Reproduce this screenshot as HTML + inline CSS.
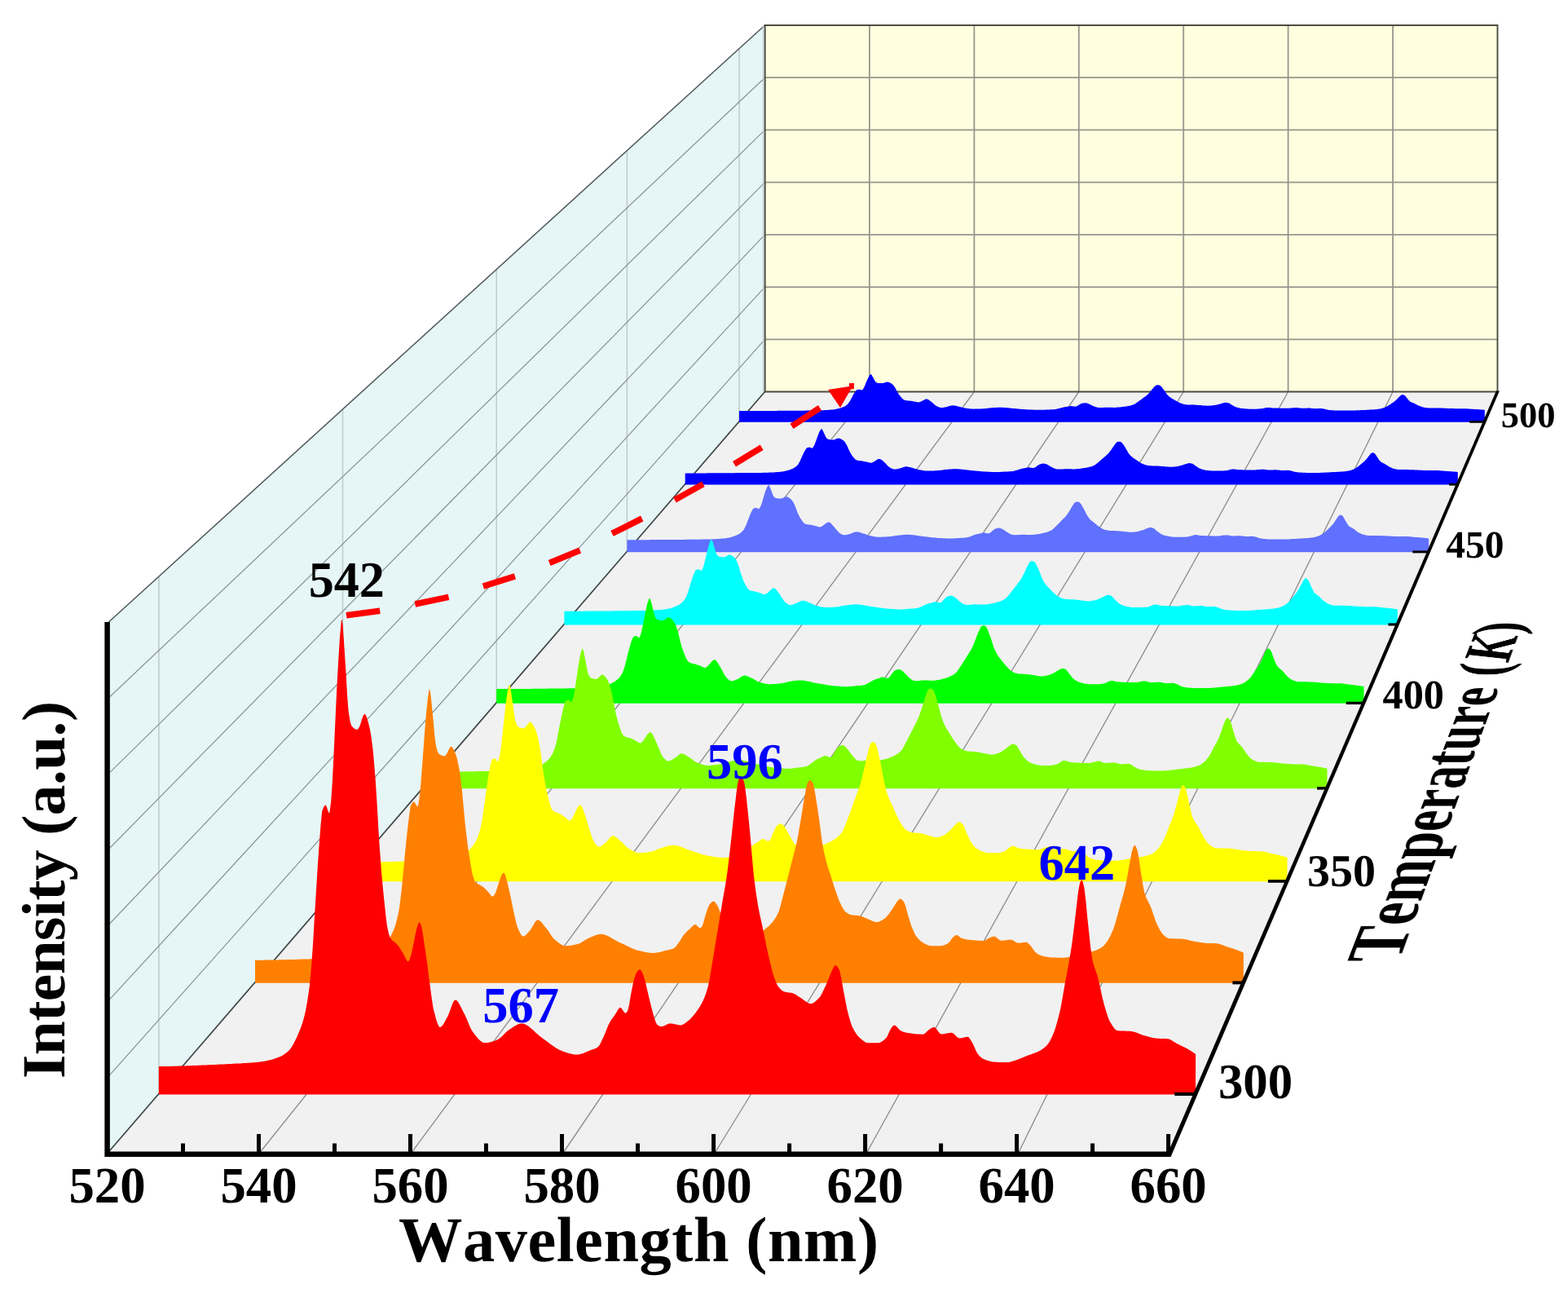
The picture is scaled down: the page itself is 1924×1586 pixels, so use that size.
<!DOCTYPE html>
<html lang="en">
<head>
<meta charset="utf-8">
<title>Temperature-dependent emission spectra</title>
<style>
html,body{margin:0;padding:0;background:#ffffff;}
body{width:1924px;height:1586px;position:relative;overflow:hidden;}
svg{display:block;position:absolute;left:0;top:0;filter:blur(0.5px);}
</style>
</head>
<body>
<svg id="chart" width="1924" height="1586" viewBox="0 0 1924 1586">
<rect width="1924" height="1586" fill="#ffffff"/>
<polygon points="938.5,31.0 1837.5,31.0 1837.5,480.5 938.5,480.5" fill="#ffffdf"/>
<polygon points="131.5,1415.0 131.5,764.8 938.5,31.0 938.5,480.5" fill="#e6f6f6"/>
<polygon points="131.5,1415.0 1435.5,1415.0 1837.5,480.5 938.5,480.5" fill="#f1f1f1"/>
<path d="M1066.9 31.0V480.5M938.5 95.2H1837.5M1195.4 31.0V480.5M938.5 159.4H1837.5M1323.8 31.0V480.5M938.5 223.6H1837.5M1452.2 31.0V480.5M938.5 287.9H1837.5M1580.6 31.0V480.5M938.5 352.1H1837.5M1709.1 31.0V480.5M938.5 416.3H1837.5" stroke="#96968e" stroke-width="1.8" fill="none"/>
<path d="M194.9 1341.5V707.1M420.5 1080.4V502.0M609.2 861.9V330.4M769.4 676.4V184.8M907.0 516.9V59.6" stroke="#c0caca" stroke-width="1.5" fill="none"/>
<path d="M131.5 1322.1L938.5 416.3M131.5 1229.2L938.5 352.1M131.5 1136.3L938.5 287.9M131.5 1043.5L938.5 223.6M131.5 950.6L938.5 159.4M131.5 857.7L938.5 95.2" stroke="#8a9494" stroke-width="1.25" fill="none"/>
<path d="M317.8 1415.0L1066.9 480.5M504.1 1415.0L1195.4 480.5M690.4 1415.0L1323.8 480.5M876.6 1415.0L1452.2 480.5M1062.9 1415.0L1580.6 480.5M1249.2 1415.0L1709.1 480.5" stroke="#8e8e8e" stroke-width="1.35" fill="none"/>
<path d="M131.5 764.8L938.5 31.0" stroke="#4e5658" stroke-width="1.5" fill="none"/>
<path d="M936.7 32.0V480.5" stroke="#c3d0d6" stroke-width="1.6" fill="none"/>
<path d="M938.7 31.0H1837.5V480.5H938.7Z" stroke="#4c4c40" stroke-width="1.9" fill="none"/>
<path d="M131.5 1415.0L938.5 480.5" stroke="#404545" stroke-width="1.7" fill="none"/>
<path d="M907.0 517.8L907.0 504.0L908.4 504.0L909.7 504.0L911.0 504.0L912.3 504.0L913.6 504.0L914.9 504.0L916.2 504.0L917.5 504.0L918.8 504.0L920.1 504.0L921.4 504.0L922.8 504.0L924.1 504.0L925.4 504.0L926.7 504.0L928.0 504.0L929.3 504.0L930.6 504.0L931.9 504.0L933.2 503.9L934.5 503.9L935.8 503.9L937.1 503.9L938.5 503.9L939.8 503.9L941.1 503.9L942.4 503.9L943.7 503.9L945.0 503.9L946.3 503.9L947.6 503.9L948.9 503.9L950.2 503.9L951.5 503.9L952.9 503.9L954.2 503.8L955.5 503.8L956.8 503.8L958.1 503.8L959.4 503.8L960.7 503.8L962.0 503.8L963.3 503.8L964.6 503.8L965.9 503.8L967.2 503.8L968.2 503.8L968.6 503.8L969.9 503.8L971.2 503.8L972.5 503.7L973.8 503.7L975.1 503.7L976.4 503.7L977.7 503.7L979.0 503.7L980.3 503.7L981.6 503.7L983.0 503.7L984.3 503.7L985.6 503.7L986.9 503.7L988.2 503.6L989.5 503.6L990.8 503.6L992.1 503.6L993.4 503.6L994.7 503.6L996.0 503.6L997.0 503.5L997.3 503.5L998.7 503.5L1000.0 503.5L1001.3 503.5L1002.6 503.4L1003.9 503.4L1005.2 503.4L1006.5 503.3L1007.8 503.3L1009.1 503.2L1010.4 503.2L1011.7 503.1L1013.1 503.1L1013.1 503.1L1014.4 503.0L1015.7 502.9L1017.0 502.8L1018.3 502.7L1019.6 502.6L1020.9 502.5L1022.1 502.4L1022.2 502.4L1023.5 502.2L1024.8 502.0L1026.1 501.7L1027.4 501.4L1028.8 501.1L1029.3 500.9L1030.1 500.7L1031.4 500.4L1032.7 500.0L1034.0 499.5L1035.3 499.0L1035.6 498.9L1036.6 498.4L1037.9 497.6L1039.2 496.6L1040.1 495.8L1040.5 495.3L1041.8 493.6L1042.8 492.1L1043.2 491.5L1044.5 488.9L1045.5 486.9L1045.8 486.4L1047.1 484.1L1048.4 481.9L1049.1 480.8L1049.7 479.9L1051.0 478.4L1051.2 478.3L1052.3 478.0L1053.6 477.7L1054.1 477.7L1054.9 477.8L1056.2 478.3L1057.5 478.6L1057.5 478.6L1058.9 477.4L1059.9 475.8L1060.2 475.3L1061.5 472.3L1062.6 469.6L1062.8 469.1L1064.1 465.9L1065.3 463.4L1065.4 463.2L1066.7 460.8L1068.0 459.2L1068.5 459.0L1069.3 459.6L1070.6 461.8L1071.6 463.4L1071.9 464.1L1073.3 466.7L1074.3 468.2L1074.6 468.4L1075.9 469.4L1077.0 469.7L1077.2 469.8L1078.5 469.9L1079.8 470.0L1081.1 470.1L1082.3 470.1L1082.4 470.1L1083.7 469.9L1085.0 469.5L1086.3 469.0L1087.6 468.7L1088.6 468.6L1089.0 468.6L1090.3 468.8L1091.6 469.3L1092.9 469.9L1093.1 470.0L1094.2 470.7L1095.5 471.8L1095.8 472.1L1096.8 473.2L1098.1 475.2L1098.5 475.8L1099.4 477.4L1100.7 480.1L1101.2 481.0L1102.0 482.3L1103.4 484.3L1103.9 485.1L1104.7 486.0L1106.0 487.5L1106.6 488.2L1107.3 488.9L1108.4 489.9L1108.6 490.0L1109.9 490.7L1111.1 491.0L1111.2 491.1L1112.5 491.3L1113.8 491.4L1115.1 491.5L1116.4 491.7L1117.4 491.8L1117.7 491.8L1119.1 492.0L1120.4 492.2L1121.7 492.5L1122.8 492.7L1123.0 492.7L1124.3 493.0L1125.6 493.3L1126.9 493.5L1126.9 493.5L1128.2 493.3L1129.5 492.8L1130.8 492.2L1132.1 491.4L1133.5 490.7L1134.8 490.1L1136.1 489.6L1137.2 489.5L1137.4 489.5L1138.7 489.9L1140.0 490.7L1141.3 491.7L1142.6 492.7L1142.6 492.7L1143.9 493.8L1145.2 495.0L1146.2 495.8L1146.5 496.1L1147.9 497.2L1149.2 498.1L1149.8 498.5L1150.5 498.8L1151.8 499.3L1153.1 499.8L1154.4 500.0L1155.2 500.1L1155.7 500.1L1157.0 499.9L1158.3 499.7L1159.6 499.5L1160.9 499.2L1161.4 499.1L1162.2 498.9L1163.6 498.5L1164.9 498.1L1166.2 497.7L1167.5 497.4L1168.6 497.3L1168.8 497.3L1170.1 497.4L1171.4 497.6L1172.7 497.8L1174.0 498.1L1175.3 498.5L1176.6 498.8L1176.7 498.8L1178.0 499.1L1179.3 499.4L1180.6 499.8L1181.9 500.1L1183.2 500.4L1183.9 500.5L1184.5 500.6L1185.8 500.8L1187.1 501.0L1188.4 501.2L1189.7 501.3L1191.0 501.5L1192.3 501.6L1193.7 501.6L1194.7 501.7L1195.0 501.7L1196.3 501.6L1197.6 501.6L1198.9 501.6L1200.2 501.6L1201.5 501.5L1202.8 501.5L1204.1 501.4L1205.4 501.3L1205.5 501.3L1206.7 501.3L1208.1 501.2L1209.4 501.0L1210.7 500.9L1212.0 500.7L1213.3 500.6L1214.6 500.5L1215.9 500.3L1216.3 500.3L1217.2 500.2L1218.5 500.1L1219.8 500.0L1221.1 499.9L1222.4 499.9L1223.8 499.8L1225.1 499.7L1226.4 499.7L1227.1 499.7L1227.7 499.7L1229.0 499.7L1230.3 499.8L1231.6 499.9L1232.9 500.0L1234.2 500.1L1235.5 500.2L1236.8 500.3L1238.2 500.5L1239.5 500.6L1240.8 500.7L1242.1 500.9L1243.4 501.0L1244.7 501.1L1245.0 501.1L1246.0 501.2L1247.3 501.3L1248.6 501.4L1249.9 501.5L1251.2 501.7L1252.5 501.8L1253.9 501.9L1255.2 502.0L1256.5 502.1L1257.8 502.2L1259.1 502.3L1260.4 502.3L1261.7 502.4L1263.0 502.5L1263.0 502.5L1264.3 502.5L1265.6 502.6L1266.9 502.6L1268.3 502.7L1269.6 502.7L1270.9 502.8L1272.2 502.8L1273.5 502.8L1274.8 502.8L1275.6 502.8L1276.1 502.8L1277.4 502.8L1278.7 502.8L1280.0 502.7L1281.3 502.7L1282.6 502.6L1284.0 502.6L1285.3 502.5L1286.6 502.4L1287.9 502.4L1288.2 502.4L1289.2 502.3L1290.5 502.3L1291.8 502.2L1293.1 502.2L1294.4 502.1L1294.5 502.1L1295.7 501.9L1297.0 501.6L1298.4 501.3L1299.0 501.1L1299.7 501.0L1301.0 500.6L1302.3 500.2L1303.6 499.9L1304.4 499.7L1304.9 499.6L1306.2 499.3L1307.5 499.1L1308.8 498.9L1309.8 498.8L1310.1 498.7L1311.4 498.4L1312.7 498.2L1314.1 498.1L1314.3 498.1L1315.4 498.2L1316.7 498.4L1318.0 498.6L1318.7 498.7L1319.3 498.6L1320.5 498.5L1320.6 498.4L1321.9 497.9L1323.2 497.0L1324.1 496.4L1324.5 496.2L1325.8 495.5L1327.1 494.9L1327.7 494.8L1328.5 494.6L1329.8 494.4L1331.1 494.2L1331.3 494.2L1332.4 494.3L1333.7 494.6L1334.9 495.0L1335.0 495.0L1336.3 495.5L1337.6 496.2L1338.5 496.6L1338.9 496.8L1340.2 497.4L1341.5 498.0L1342.8 498.6L1343.0 498.7L1344.2 499.1L1345.5 499.6L1346.6 499.8L1346.8 499.8L1348.1 499.9L1349.4 500.0L1350.2 500.0L1350.7 500.0L1352.0 500.0L1353.3 499.9L1354.6 499.8L1355.9 499.8L1357.2 499.7L1358.3 499.7L1358.6 499.7L1359.9 499.7L1361.2 499.7L1362.5 499.8L1363.8 499.8L1365.1 499.8L1366.4 499.9L1367.3 499.9L1367.7 499.9L1369.0 499.8L1370.3 499.7L1371.6 499.6L1372.9 499.5L1374.3 499.4L1374.5 499.4L1375.6 499.3L1376.9 499.1L1378.2 499.0L1379.5 498.8L1380.8 498.6L1381.7 498.5L1382.1 498.4L1383.4 498.2L1384.7 497.9L1386.0 497.7L1387.1 497.4L1387.3 497.4L1388.7 497.0L1390.0 496.6L1391.3 496.1L1391.6 496.0L1392.6 495.4L1393.9 494.5L1395.1 493.7L1395.2 493.6L1396.5 492.7L1397.8 491.8L1399.1 490.8L1399.6 490.4L1400.4 489.9L1401.7 488.9L1403.0 487.9L1404.1 487.1L1404.4 486.9L1405.7 485.9L1407.0 484.9L1408.3 483.8L1408.6 483.5L1409.6 482.5L1410.9 481.0L1412.2 479.5L1412.2 479.4L1413.5 477.8L1414.8 476.2L1415.8 475.1L1416.1 474.7L1417.4 473.4L1418.5 472.7L1418.8 472.6L1420.1 472.3L1420.9 472.3L1421.4 472.3L1422.7 472.6L1423.4 472.9L1424.0 473.3L1425.3 474.6L1426.6 476.2L1426.6 476.3L1427.9 477.9L1429.2 479.7L1429.3 479.8L1430.5 481.7L1431.8 483.6L1432.0 483.8L1433.1 485.1L1434.5 486.2L1435.6 487.2L1435.8 487.3L1437.1 488.2L1438.4 489.0L1439.7 489.7L1440.1 490.0L1441.0 490.5L1442.3 491.3L1443.6 492.1L1444.6 492.6L1444.9 492.8L1446.2 493.5L1447.5 494.1L1448.9 494.6L1449.1 494.7L1450.2 495.1L1451.5 495.5L1452.8 495.8L1453.6 496.0L1454.1 496.1L1455.4 496.2L1456.7 496.4L1458.0 496.5L1459.0 496.5L1459.3 496.5L1460.6 496.5L1461.9 496.6L1463.2 496.6L1464.6 496.6L1465.9 496.6L1466.2 496.6L1467.2 496.7L1468.5 496.8L1469.8 496.9L1471.1 497.0L1472.4 497.1L1473.3 497.1L1473.7 497.1L1475.0 497.2L1476.3 497.4L1477.6 497.5L1479.0 497.6L1480.3 497.6L1481.6 497.7L1482.3 497.7L1482.9 497.7L1484.2 497.6L1485.5 497.6L1486.8 497.4L1488.1 497.3L1489.4 497.1L1489.5 497.1L1490.7 496.9L1492.0 496.7L1493.3 496.4L1494.7 496.1L1495.8 495.8L1496.0 495.7L1497.3 495.4L1498.6 495.0L1499.9 494.6L1500.3 494.5L1501.2 494.3L1502.5 494.0L1503.8 493.8L1503.9 493.8L1505.1 493.9L1506.4 494.1L1507.5 494.3L1507.7 494.4L1509.1 495.1L1510.4 495.9L1511.1 496.4L1511.7 496.7L1513.0 497.5L1514.3 498.3L1514.7 498.5L1515.6 498.9L1516.9 499.4L1518.2 499.8L1519.2 500.1L1519.5 500.2L1520.8 500.5L1522.1 500.7L1523.4 500.9L1524.8 501.1L1525.5 501.1L1526.1 501.2L1527.4 501.3L1528.7 501.5L1530.0 501.6L1531.3 501.6L1532.6 501.7L1532.7 501.7L1533.9 501.7L1535.2 501.7L1536.5 501.7L1537.8 501.7L1539.2 501.7L1540.5 501.7L1541.7 501.7L1541.8 501.7L1543.1 501.6L1544.4 501.6L1545.7 501.5L1547.0 501.3L1548.3 501.2L1548.9 501.1L1549.6 501.0L1550.9 500.7L1552.2 500.4L1552.4 500.3L1553.5 500.1L1554.9 499.9L1556.0 499.9L1556.2 499.9L1557.5 499.9L1558.8 500.1L1560.1 500.3L1561.4 500.4L1561.4 500.4L1562.7 500.5L1564.0 500.5L1565.3 500.6L1566.6 500.6L1566.8 500.6L1567.9 500.6L1569.3 500.7L1570.6 500.7L1571.9 500.7L1573.2 500.7L1574.5 500.7L1575.8 500.8L1577.1 500.8L1578.4 500.8L1579.7 500.8L1581.0 500.8L1581.2 500.8L1582.3 500.7L1583.6 500.6L1585.0 500.5L1586.3 500.3L1586.6 500.3L1587.6 500.2L1588.9 500.2L1590.2 500.1L1591.1 500.1L1591.5 500.1L1592.8 500.2L1594.1 500.4L1595.4 500.6L1596.7 500.7L1597.4 500.8L1598.0 500.8L1599.4 500.7L1600.7 500.7L1602.0 500.7L1603.3 500.7L1604.6 500.6L1605.9 500.6L1606.4 500.6L1607.2 500.6L1608.5 500.7L1609.8 500.9L1611.1 501.0L1612.4 501.1L1613.6 501.2L1613.7 501.2L1615.1 501.2L1616.4 501.1L1617.7 501.1L1619.0 501.1L1620.3 501.0L1620.8 501.0L1621.6 501.1L1622.9 501.3L1624.2 501.5L1624.4 501.5L1625.5 501.8L1626.8 502.1L1628.1 502.5L1629.5 502.7L1629.8 502.8L1630.8 502.9L1632.1 503.1L1633.4 503.2L1634.7 503.3L1635.1 503.3L1636.0 503.3L1637.3 503.4L1638.6 503.4L1639.9 503.5L1641.2 503.5L1642.5 503.5L1643.8 503.6L1644.1 503.6L1645.2 503.6L1646.5 503.6L1647.8 503.6L1649.1 503.6L1650.4 503.6L1651.7 503.6L1653.0 503.6L1654.3 503.6L1654.9 503.6L1655.6 503.6L1656.9 503.6L1658.2 503.6L1659.6 503.5L1660.9 503.5L1662.2 503.4L1663.5 503.4L1663.9 503.4L1664.8 503.3L1666.1 503.3L1667.4 503.2L1668.7 503.2L1670.0 503.1L1671.3 503.0L1672.6 503.0L1672.9 502.9L1673.9 502.9L1675.3 502.9L1676.6 502.8L1677.9 502.7L1679.2 502.7L1680.5 502.6L1681.8 502.6L1683.1 502.5L1683.7 502.5L1684.4 502.4L1685.7 502.3L1687.0 502.2L1688.3 502.1L1689.7 502.0L1690.9 501.9L1691.0 501.8L1692.3 501.6L1693.6 501.4L1694.9 501.1L1696.2 500.7L1696.3 500.7L1697.5 500.3L1698.8 499.9L1700.1 499.3L1701.4 498.7L1701.7 498.6L1702.7 498.0L1704.0 497.2L1705.4 496.3L1706.7 495.4L1707.1 495.1L1708.0 494.5L1709.3 493.7L1710.6 492.8L1711.9 491.8L1712.4 491.3L1713.2 490.6L1714.5 489.3L1715.8 488.0L1716.0 487.7L1717.1 486.5L1718.4 485.3L1718.7 485.1L1719.8 484.5L1721.1 484.0L1721.1 484.0L1722.4 484.4L1723.6 485.1L1723.7 485.1L1725.0 486.4L1726.3 488.2L1726.8 488.8L1727.6 489.8L1728.9 491.3L1730.2 492.5L1730.4 492.6L1731.5 493.3L1732.8 493.8L1734.1 494.3L1735.5 494.8L1735.8 494.9L1736.8 495.4L1738.1 496.2L1739.4 496.9L1740.7 497.5L1741.2 497.8L1742.0 498.1L1743.3 498.6L1744.6 499.1L1745.9 499.4L1746.6 499.6L1747.2 499.7L1748.5 499.9L1749.9 500.2L1751.2 500.3L1752.5 500.4L1752.9 500.4L1753.8 500.4L1755.1 500.4L1756.4 500.4L1757.7 500.4L1759.0 500.5L1760.3 500.5L1761.6 500.5L1762.9 500.5L1764.2 500.5L1764.6 500.5L1765.6 500.5L1766.9 500.5L1768.2 500.6L1769.5 500.6L1770.8 500.7L1772.1 500.7L1773.4 500.8L1774.7 500.8L1776.0 500.9L1777.2 500.9L1777.3 500.9L1778.6 501.0L1780.0 501.0L1781.3 501.1L1782.6 501.1L1783.9 501.1L1785.2 501.2L1786.5 501.2L1787.8 501.2L1788.0 501.2L1789.1 501.2L1790.4 501.2L1791.7 501.2L1793.0 501.2L1794.3 501.2L1795.7 501.2L1796.9 501.2L1797.0 501.2L1798.3 501.3L1799.6 501.3L1800.9 501.4L1802.2 501.5L1803.5 501.6L1804.8 501.7L1805.9 501.8L1806.1 501.8L1807.4 501.8L1808.7 501.9L1810.1 502.0L1811.4 502.1L1812.7 502.1L1814.0 502.2L1814.9 502.3L1815.3 502.3L1816.6 502.4L1817.9 502.5L1819.2 502.6L1820.5 502.7L1821.8 502.8L1821.8 517.8Z" fill="#0000ff"/>
<path d="M840.7 594.6L840.7 580.4L842.1 580.4L843.4 580.4L844.8 580.4L846.1 580.4L847.5 580.4L848.8 580.4L850.2 580.4L851.6 580.4L852.9 580.4L854.3 580.4L855.6 580.4L857.0 580.4L858.3 580.4L859.7 580.4L861.1 580.4L862.4 580.4L863.8 580.4L865.1 580.4L866.5 580.4L867.8 580.3L869.2 580.3L870.6 580.3L871.9 580.3L873.3 580.3L874.6 580.3L876.0 580.3L877.3 580.3L878.7 580.3L880.0 580.3L881.4 580.3L882.8 580.3L884.1 580.3L885.5 580.3L886.8 580.2L888.2 580.2L889.5 580.2L890.9 580.2L892.3 580.2L893.6 580.2L895.0 580.2L896.3 580.2L897.7 580.2L899.0 580.2L900.4 580.2L901.7 580.2L903.1 580.1L904.1 580.1L904.5 580.1L905.8 580.1L907.2 580.1L908.5 580.1L909.9 580.1L911.2 580.1L912.6 580.1L914.0 580.1L915.3 580.1L916.7 580.1L918.0 580.0L919.4 580.0L920.7 580.0L922.1 580.0L923.4 580.0L924.8 580.0L926.2 580.0L927.5 580.0L928.9 579.9L930.2 579.9L931.6 579.9L932.9 579.9L933.9 579.9L934.3 579.9L935.7 579.8L937.0 579.8L938.4 579.8L939.7 579.7L941.1 579.7L942.4 579.7L943.8 579.6L945.1 579.5L946.5 579.5L947.9 579.4L949.2 579.4L950.6 579.3L950.7 579.3L951.9 579.2L953.3 579.1L954.6 579.0L956.0 578.9L957.4 578.8L958.7 578.6L960.0 578.4L960.1 578.4L961.4 578.2L962.8 577.9L964.1 577.6L965.5 577.3L966.9 576.9L967.4 576.7L968.2 576.5L969.6 576.0L970.9 575.6L972.3 575.0L973.6 574.4L973.9 574.2L975.0 573.6L976.3 572.6L977.7 571.4L978.6 570.5L979.1 569.9L980.4 567.8L981.4 566.0L981.8 565.3L983.1 562.2L984.2 559.8L984.5 559.2L985.8 556.3L987.2 553.6L987.9 552.4L988.6 551.3L989.9 549.5L990.2 549.3L991.3 548.9L992.6 548.7L993.1 548.6L994.0 548.8L995.3 549.4L996.7 549.7L996.7 549.7L998.0 548.3L999.1 546.3L999.4 545.7L1000.8 542.1L1001.9 538.9L1002.1 538.3L1003.5 534.4L1004.7 531.4L1004.8 531.1L1006.2 528.2L1007.5 526.2L1008.0 526.0L1008.9 526.7L1010.3 529.4L1011.2 531.4L1011.6 532.2L1013.0 535.4L1014.0 537.1L1014.3 537.4L1015.7 538.5L1016.8 539.0L1017.0 539.0L1018.4 539.2L1019.7 539.4L1021.1 539.5L1022.4 539.5L1022.5 539.5L1023.8 539.2L1025.2 538.7L1026.5 538.1L1027.9 537.7L1028.9 537.6L1029.2 537.6L1030.6 537.9L1032.0 538.5L1033.3 539.2L1033.6 539.4L1034.7 540.1L1036.0 541.5L1036.4 541.8L1037.4 543.2L1038.7 545.6L1039.2 546.3L1040.1 548.3L1041.4 551.5L1042.0 552.6L1042.8 554.2L1044.2 556.6L1044.7 557.5L1045.5 558.7L1046.9 560.4L1047.5 561.3L1048.2 562.1L1049.4 563.4L1049.6 563.5L1050.9 564.3L1052.2 564.8L1052.3 564.8L1053.7 565.0L1055.0 565.2L1056.4 565.3L1057.7 565.5L1058.7 565.6L1059.1 565.7L1060.4 565.9L1061.8 566.2L1063.1 566.5L1064.3 566.7L1064.5 566.8L1065.9 567.2L1067.2 567.5L1068.6 567.7L1068.6 567.7L1069.9 567.5L1071.3 566.9L1072.6 566.1L1074.0 565.2L1075.4 564.3L1076.7 563.6L1078.1 563.0L1079.2 562.9L1079.4 562.9L1080.8 563.4L1082.1 564.3L1083.5 565.6L1084.8 566.7L1084.9 566.8L1086.2 568.1L1087.6 569.5L1088.5 570.5L1088.9 570.9L1090.3 572.2L1091.6 573.3L1092.3 573.7L1093.0 574.1L1094.3 574.7L1095.7 575.3L1097.1 575.6L1097.8 575.7L1098.4 575.6L1099.8 575.5L1101.1 575.2L1102.5 574.9L1103.8 574.6L1104.4 574.5L1105.2 574.2L1106.6 573.8L1107.9 573.3L1109.3 572.8L1110.6 572.5L1111.8 572.3L1112.0 572.3L1113.3 572.4L1114.7 572.7L1116.0 573.0L1117.4 573.3L1118.8 573.7L1120.1 574.1L1120.2 574.1L1121.5 574.4L1122.8 574.9L1124.2 575.3L1125.5 575.7L1126.9 576.1L1127.7 576.2L1128.3 576.3L1129.6 576.6L1131.0 576.8L1132.3 577.0L1133.7 577.2L1135.0 577.4L1136.4 577.5L1137.7 577.6L1138.8 577.6L1139.1 577.6L1140.5 577.6L1141.8 577.5L1143.2 577.5L1144.5 577.5L1145.9 577.4L1147.2 577.3L1148.6 577.3L1150.0 577.2L1150.0 577.2L1151.3 577.1L1152.7 577.0L1154.0 576.8L1155.4 576.7L1156.7 576.5L1158.1 576.3L1159.4 576.1L1160.8 576.0L1161.2 576.0L1162.2 575.9L1163.5 575.8L1164.9 575.6L1166.2 575.5L1167.6 575.4L1168.9 575.3L1170.3 575.3L1171.7 575.2L1172.4 575.2L1173.0 575.2L1174.4 575.2L1175.7 575.3L1177.1 575.4L1178.4 575.5L1179.8 575.7L1181.2 575.8L1182.5 576.0L1183.9 576.1L1185.2 576.3L1186.6 576.5L1187.9 576.6L1189.3 576.8L1190.6 576.9L1191.0 577.0L1192.0 577.0L1193.4 577.2L1194.7 577.3L1196.1 577.4L1197.4 577.6L1198.8 577.7L1200.1 577.8L1201.5 578.0L1202.9 578.1L1204.2 578.2L1205.6 578.3L1206.9 578.4L1208.3 578.5L1209.6 578.6L1209.6 578.6L1211.0 578.6L1212.3 578.7L1213.7 578.8L1215.1 578.8L1216.4 578.9L1217.8 578.9L1219.1 578.9L1220.5 579.0L1221.8 579.0L1222.7 579.0L1223.2 579.0L1224.6 579.0L1225.9 578.9L1227.3 578.9L1228.6 578.8L1230.0 578.8L1231.3 578.7L1232.7 578.6L1234.0 578.5L1235.4 578.5L1235.7 578.4L1236.8 578.4L1238.1 578.3L1239.5 578.3L1240.8 578.2L1242.2 578.1L1242.2 578.1L1243.5 577.9L1244.9 577.5L1246.3 577.1L1246.9 577.0L1247.6 576.7L1249.0 576.3L1250.3 575.9L1251.7 575.4L1252.5 575.2L1253.0 575.1L1254.4 574.8L1255.7 574.5L1257.1 574.3L1258.1 574.1L1258.5 574.0L1259.8 573.7L1261.2 573.4L1262.5 573.3L1262.7 573.3L1263.9 573.4L1265.2 573.7L1266.6 573.9L1267.4 574.0L1268.0 573.9L1269.3 573.7L1269.3 573.7L1270.7 573.0L1272.0 571.9L1273.0 571.2L1273.4 571.0L1274.7 570.1L1276.1 569.4L1276.7 569.2L1277.5 569.0L1278.8 568.8L1280.2 568.6L1280.4 568.6L1281.5 568.7L1282.9 569.1L1284.2 569.5L1284.2 569.5L1285.6 570.1L1286.9 570.9L1287.9 571.5L1288.3 571.7L1289.7 572.5L1291.0 573.2L1292.4 573.9L1292.5 574.0L1293.7 574.5L1295.1 575.1L1296.3 575.3L1296.4 575.4L1297.8 575.5L1299.2 575.6L1300.0 575.6L1300.5 575.6L1301.9 575.5L1303.2 575.5L1304.6 575.4L1305.9 575.3L1307.3 575.2L1308.4 575.2L1308.6 575.2L1310.0 575.2L1311.4 575.3L1312.7 575.3L1314.1 575.3L1315.4 575.4L1316.8 575.4L1317.7 575.4L1318.1 575.4L1319.5 575.4L1320.9 575.3L1322.2 575.1L1323.6 575.0L1324.9 574.9L1325.1 574.8L1326.3 574.7L1327.6 574.5L1329.0 574.3L1330.3 574.1L1331.7 573.9L1332.6 573.7L1333.1 573.6L1334.4 573.4L1335.8 573.1L1337.1 572.8L1338.2 572.5L1338.5 572.4L1339.8 572.0L1341.2 571.5L1342.6 570.8L1342.8 570.7L1343.9 570.0L1345.3 569.0L1346.6 567.9L1346.6 567.9L1348.0 566.8L1349.3 565.6L1350.7 564.5L1351.2 564.0L1352.0 563.3L1353.4 562.1L1354.8 560.9L1355.9 559.9L1356.1 559.7L1357.5 558.5L1358.8 557.3L1360.2 555.9L1360.5 555.5L1361.5 554.3L1362.9 552.5L1364.3 550.5L1364.3 550.5L1365.6 548.6L1367.0 546.5L1368.0 545.2L1368.3 544.8L1369.7 543.0L1370.8 542.2L1371.0 542.1L1372.4 541.8L1373.2 541.7L1373.7 541.7L1375.1 542.1L1375.8 542.5L1376.5 542.9L1377.8 544.6L1379.2 546.6L1379.2 546.6L1380.5 548.6L1381.9 550.9L1382.0 551.0L1383.2 553.3L1384.6 555.7L1384.8 555.9L1386.0 557.4L1387.3 558.9L1388.5 560.0L1388.7 560.1L1390.0 561.2L1391.4 562.2L1392.7 563.1L1393.2 563.4L1394.1 564.1L1395.5 565.0L1396.8 566.0L1397.8 566.6L1398.2 566.8L1399.5 567.7L1400.9 568.4L1402.2 569.1L1402.5 569.2L1403.6 569.6L1404.9 570.1L1406.3 570.5L1407.1 570.7L1407.7 570.8L1409.0 571.0L1410.4 571.2L1411.7 571.3L1412.7 571.3L1413.1 571.4L1414.4 571.4L1415.8 571.4L1417.2 571.5L1418.5 571.5L1419.9 571.5L1420.2 571.5L1421.2 571.6L1422.6 571.7L1423.9 571.8L1425.3 571.9L1426.6 572.0L1427.6 572.1L1428.0 572.1L1429.4 572.2L1430.7 572.4L1432.1 572.5L1433.4 572.6L1434.8 572.7L1436.1 572.8L1436.9 572.8L1437.5 572.8L1438.9 572.7L1440.2 572.6L1441.6 572.5L1442.9 572.3L1444.3 572.1L1444.4 572.1L1445.6 571.9L1447.0 571.6L1448.3 571.2L1449.7 570.8L1450.9 570.5L1451.1 570.4L1452.4 570.0L1453.8 569.5L1455.1 569.1L1455.6 569.0L1456.5 568.7L1457.8 568.3L1459.2 568.1L1459.3 568.1L1460.6 568.2L1461.9 568.5L1463.0 568.7L1463.3 568.8L1464.6 569.6L1466.0 570.7L1466.7 571.2L1467.3 571.6L1468.7 572.6L1470.0 573.5L1470.5 573.7L1471.4 574.2L1472.8 574.8L1474.1 575.4L1475.1 575.7L1475.5 575.8L1476.8 576.1L1478.2 576.4L1479.5 576.7L1480.9 576.9L1481.7 577.0L1482.3 577.0L1483.6 577.2L1485.0 577.3L1486.3 577.5L1487.7 577.5L1489.0 577.6L1489.1 577.6L1490.4 577.6L1491.8 577.6L1493.1 577.6L1494.5 577.6L1495.8 577.6L1497.2 577.6L1498.4 577.6L1498.5 577.6L1499.9 577.5L1501.2 577.5L1502.6 577.3L1504.0 577.2L1505.3 577.0L1505.9 577.0L1506.7 576.8L1508.0 576.4L1509.4 576.0L1509.6 576.0L1510.7 575.7L1512.1 575.5L1513.3 575.4L1513.5 575.4L1514.8 575.5L1516.2 575.7L1517.5 575.9L1518.9 576.1L1518.9 576.1L1520.2 576.2L1521.6 576.2L1522.9 576.3L1524.3 576.3L1524.5 576.3L1525.7 576.4L1527.0 576.4L1528.4 576.4L1529.7 576.4L1531.1 576.5L1532.4 576.5L1533.8 576.5L1535.2 576.5L1536.5 576.5L1537.9 576.5L1539.2 576.5L1539.4 576.5L1540.6 576.5L1541.9 576.3L1543.3 576.1L1544.6 576.0L1545.0 576.0L1546.0 575.9L1547.4 575.8L1548.7 575.7L1549.7 575.7L1550.1 575.7L1551.4 575.8L1552.8 576.1L1554.1 576.3L1555.5 576.5L1556.2 576.5L1556.9 576.5L1558.2 576.5L1559.6 576.5L1560.9 576.4L1562.3 576.4L1563.6 576.3L1565.0 576.3L1565.5 576.3L1566.3 576.4L1567.7 576.5L1569.1 576.6L1570.4 576.8L1571.8 577.0L1572.9 577.0L1573.1 577.0L1574.5 577.0L1575.8 576.9L1577.2 576.9L1578.6 576.9L1579.9 576.8L1580.4 576.8L1581.3 576.9L1582.6 577.1L1584.0 577.4L1584.1 577.5L1585.3 577.7L1586.7 578.2L1588.1 578.6L1589.4 578.9L1589.7 578.9L1590.8 579.1L1592.1 579.3L1593.5 579.4L1594.8 579.5L1595.3 579.6L1596.2 579.6L1597.5 579.7L1598.9 579.7L1600.3 579.8L1601.6 579.8L1603.0 579.9L1604.3 579.9L1604.6 579.9L1605.7 579.9L1607.0 579.9L1608.4 579.9L1609.8 579.9L1611.1 579.9L1612.5 579.9L1613.8 579.9L1615.2 579.9L1615.8 579.9L1616.5 579.9L1617.9 579.9L1619.2 579.9L1620.6 579.8L1622.0 579.8L1623.3 579.7L1624.7 579.7L1625.1 579.6L1626.0 579.6L1627.4 579.5L1628.7 579.5L1630.1 579.4L1631.5 579.3L1632.8 579.2L1634.2 579.2L1634.4 579.1L1635.5 579.1L1636.9 579.0L1638.2 579.0L1639.6 578.9L1640.9 578.8L1642.3 578.8L1643.7 578.7L1645.0 578.6L1645.6 578.6L1646.4 578.5L1647.7 578.4L1649.1 578.3L1650.4 578.2L1651.8 578.0L1653.1 577.8L1653.2 577.8L1654.5 577.6L1655.9 577.2L1657.2 576.9L1658.6 576.4L1658.7 576.4L1659.9 576.0L1661.3 575.4L1662.6 574.7L1664.0 574.0L1664.2 573.8L1665.4 573.1L1666.7 572.1L1668.1 571.0L1669.4 569.8L1669.8 569.5L1670.8 568.7L1672.1 567.6L1673.5 566.4L1674.9 565.1L1675.4 564.6L1676.2 563.7L1677.6 562.0L1678.9 560.2L1679.1 559.9L1680.3 558.4L1681.6 556.7L1681.9 556.5L1683.0 555.7L1684.3 555.2L1684.4 555.2L1685.7 555.6L1687.0 556.5L1687.1 556.5L1688.4 558.3L1689.8 560.5L1690.3 561.3L1691.1 562.5L1692.5 564.5L1693.8 566.1L1694.1 566.2L1695.2 567.0L1696.6 567.7L1697.9 568.4L1699.3 569.0L1699.6 569.3L1700.6 569.9L1702.0 570.8L1703.3 571.7L1704.7 572.5L1705.2 572.8L1706.1 573.2L1707.4 573.8L1708.8 574.4L1710.1 574.9L1710.8 575.0L1711.5 575.2L1712.8 575.5L1714.2 575.8L1715.5 576.0L1716.9 576.1L1717.3 576.1L1718.3 576.1L1719.6 576.1L1721.0 576.1L1722.3 576.1L1723.7 576.1L1725.0 576.1L1726.4 576.1L1727.8 576.1L1729.1 576.2L1729.5 576.2L1730.5 576.2L1731.8 576.2L1733.2 576.3L1734.5 576.3L1735.9 576.4L1737.2 576.5L1738.6 576.5L1740.0 576.6L1741.3 576.7L1742.5 576.7L1742.7 576.7L1744.0 576.8L1745.4 576.8L1746.7 576.9L1748.1 576.9L1749.5 576.9L1750.8 577.0L1752.2 577.0L1753.5 577.0L1753.7 577.0L1754.9 577.0L1756.2 577.0L1757.6 577.0L1758.9 577.1L1760.3 577.1L1761.7 577.1L1763.0 577.1L1763.0 577.1L1764.4 577.1L1765.7 577.2L1767.1 577.3L1768.4 577.4L1769.8 577.5L1771.2 577.6L1772.3 577.7L1772.5 577.7L1773.9 577.8L1775.2 577.9L1776.6 578.0L1777.9 578.1L1779.3 578.2L1780.6 578.3L1781.6 578.3L1782.0 578.4L1783.4 578.5L1784.7 578.6L1786.1 578.7L1787.4 578.8L1788.8 578.9L1788.8 594.6Z" fill="#0000ff"/>
<path d="M769.4 677.3L769.4 662.3L770.8 662.3L772.2 662.3L773.6 662.2L775.0 662.2L776.4 662.2L777.8 662.2L779.2 662.2L780.6 662.2L782.0 662.2L783.4 662.2L784.8 662.2L786.3 662.2L787.7 662.2L789.1 662.2L790.5 662.2L791.9 662.2L793.3 662.2L794.7 662.2L796.1 662.2L797.5 662.1L798.9 662.1L800.3 662.1L801.7 662.1L803.1 662.1L804.6 662.1L806.0 662.1L807.4 662.1L808.8 662.1L810.2 662.1L811.6 662.1L813.0 662.1L814.4 662.0L815.8 662.0L817.2 662.0L818.6 662.0L820.0 662.0L821.4 662.0L822.9 662.0L824.3 662.0L825.7 662.0L827.1 662.0L828.5 661.9L829.9 661.9L831.3 661.9L832.7 661.9L834.1 661.9L835.1 661.9L835.5 661.9L836.9 661.9L838.3 661.9L839.7 661.9L841.1 661.8L842.6 661.8L844.0 661.8L845.4 661.8L846.8 661.8L848.2 661.8L849.6 661.8L851.0 661.8L852.4 661.7L853.8 661.7L855.2 661.7L856.6 661.7L858.0 661.7L859.4 661.7L860.9 661.6L862.3 661.6L863.7 661.6L865.1 661.6L866.1 661.6L866.5 661.5L867.9 661.5L869.3 661.5L870.7 661.4L872.1 661.4L873.5 661.3L874.9 661.3L876.3 661.2L877.7 661.2L879.2 661.1L880.6 661.0L882.0 660.9L883.4 660.8L883.5 660.8L884.8 660.8L886.2 660.6L887.6 660.5L889.0 660.4L890.4 660.2L891.8 660.0L893.1 659.8L893.2 659.8L894.6 659.5L896.0 659.2L897.5 658.8L898.9 658.3L900.3 657.8L900.9 657.6L901.7 657.4L903.1 656.8L904.5 656.2L905.9 655.6L907.3 654.8L907.6 654.6L908.7 653.8L910.1 652.6L911.5 651.1L912.5 649.9L912.9 649.3L914.3 646.6L915.4 644.4L915.7 643.5L917.2 639.7L918.3 636.7L918.6 635.9L920.0 632.4L921.4 629.1L922.1 627.6L922.8 626.3L924.2 623.9L924.5 623.8L925.6 623.3L927.0 623.0L927.5 622.9L928.4 623.1L929.8 623.8L931.2 624.2L931.2 624.2L932.6 622.5L933.7 620.1L934.0 619.3L935.5 614.9L936.6 610.8L936.9 610.1L938.3 605.3L939.5 601.6L939.7 601.2L941.1 597.7L942.5 595.2L943.0 595.0L943.9 595.8L945.3 599.1L946.3 601.6L946.7 602.6L948.1 606.5L949.2 608.7L949.5 609.1L950.9 610.4L952.1 611.0L952.3 611.0L953.8 611.3L955.2 611.4L956.6 611.6L957.9 611.6L958.0 611.6L959.4 611.3L960.8 610.7L962.2 609.9L963.6 609.4L964.7 609.2L965.0 609.2L966.4 609.6L967.8 610.3L969.2 611.3L969.5 611.4L970.6 612.4L972.1 614.0L972.4 614.5L973.5 616.2L974.9 619.1L975.3 620.1L976.3 622.5L977.7 626.4L978.2 627.8L979.1 629.8L980.5 632.8L981.1 633.9L981.9 635.3L983.3 637.5L984.0 638.5L984.7 639.6L985.9 641.1L986.1 641.3L987.5 642.3L988.8 642.9L988.9 642.9L990.4 643.2L991.8 643.4L993.2 643.6L994.6 643.8L995.6 643.9L996.0 644.0L997.4 644.3L998.8 644.7L1000.2 645.0L1001.4 645.3L1001.6 645.4L1003.0 645.8L1004.4 646.3L1005.8 646.5L1005.9 646.5L1007.2 646.2L1008.6 645.5L1010.1 644.6L1011.5 643.4L1012.9 642.3L1014.3 641.4L1015.7 640.7L1016.9 640.5L1017.1 640.6L1018.5 641.1L1019.9 642.3L1021.3 643.9L1022.7 645.3L1022.7 645.4L1024.1 647.0L1025.5 648.7L1026.5 649.9L1026.9 650.4L1028.4 652.0L1029.8 653.5L1030.4 653.9L1031.2 654.4L1032.6 655.2L1034.0 655.9L1035.4 656.3L1036.2 656.3L1036.8 656.3L1038.2 656.1L1039.6 655.8L1041.0 655.4L1042.4 655.0L1043.0 654.9L1043.8 654.6L1045.2 654.0L1046.7 653.4L1048.1 652.8L1049.5 652.4L1050.7 652.2L1050.9 652.2L1052.3 652.4L1053.7 652.6L1055.1 653.0L1056.5 653.5L1057.9 653.9L1059.3 654.4L1059.4 654.4L1060.7 654.8L1062.1 655.3L1063.5 655.9L1065.0 656.4L1066.4 656.8L1067.1 657.0L1067.8 657.2L1069.2 657.4L1070.6 657.7L1072.0 658.0L1073.4 658.2L1074.8 658.4L1076.2 658.6L1077.6 658.7L1078.7 658.7L1079.0 658.7L1080.4 658.7L1081.8 658.7L1083.2 658.6L1084.7 658.6L1086.1 658.5L1087.5 658.4L1088.9 658.3L1090.3 658.3L1090.3 658.3L1091.7 658.1L1093.1 658.0L1094.5 657.8L1095.9 657.6L1097.3 657.4L1098.7 657.1L1100.1 656.9L1101.5 656.8L1101.9 656.7L1103.0 656.6L1104.4 656.5L1105.8 656.3L1107.2 656.2L1108.6 656.0L1110.0 655.9L1111.4 655.8L1112.8 655.8L1113.6 655.8L1114.2 655.8L1115.6 655.8L1117.0 655.9L1118.4 656.0L1119.8 656.2L1121.3 656.3L1122.7 656.5L1124.1 656.7L1125.5 656.9L1126.9 657.1L1128.3 657.4L1129.7 657.6L1131.1 657.7L1132.5 657.9L1132.9 657.9L1133.9 658.1L1135.3 658.2L1136.7 658.4L1138.1 658.6L1139.6 658.7L1141.0 658.9L1142.4 659.1L1143.8 659.2L1145.2 659.4L1146.6 659.5L1148.0 659.6L1149.4 659.8L1150.8 659.9L1152.2 659.9L1152.2 659.9L1153.6 660.0L1155.0 660.1L1156.4 660.2L1157.8 660.3L1159.3 660.3L1160.7 660.4L1162.1 660.4L1163.5 660.5L1164.9 660.5L1165.8 660.5L1166.3 660.5L1167.7 660.4L1169.1 660.4L1170.5 660.3L1171.9 660.3L1173.3 660.2L1174.7 660.1L1176.1 660.0L1177.6 659.9L1179.0 659.8L1179.3 659.8L1180.4 659.7L1181.8 659.7L1183.2 659.6L1184.6 659.5L1186.0 659.3L1186.1 659.3L1187.4 659.1L1188.8 658.7L1190.2 658.2L1190.9 657.9L1191.6 657.7L1193.0 657.1L1194.4 656.6L1195.9 656.1L1196.7 655.8L1197.3 655.6L1198.7 655.3L1200.1 654.9L1201.5 654.6L1202.5 654.4L1202.9 654.3L1204.3 653.9L1205.7 653.6L1207.1 653.4L1207.3 653.4L1208.5 653.5L1209.9 653.9L1211.3 654.2L1212.2 654.3L1212.7 654.2L1214.1 653.9L1214.2 653.9L1215.6 653.1L1217.0 651.7L1218.0 650.9L1218.4 650.6L1219.8 649.5L1221.2 648.6L1221.8 648.4L1222.6 648.2L1224.0 647.8L1225.4 647.6L1225.7 647.6L1226.8 647.8L1228.2 648.2L1229.6 648.7L1229.6 648.7L1231.0 649.5L1232.5 650.5L1233.4 651.2L1233.9 651.4L1235.3 652.4L1236.7 653.3L1238.1 654.2L1238.3 654.3L1239.5 654.9L1240.9 655.6L1242.1 655.9L1242.3 656.0L1243.7 656.1L1245.1 656.2L1246.0 656.3L1246.5 656.2L1247.9 656.2L1249.3 656.1L1250.7 656.0L1252.2 655.9L1253.6 655.8L1254.7 655.8L1255.0 655.8L1256.4 655.8L1257.8 655.8L1259.2 655.9L1260.6 656.0L1262.0 656.0L1263.4 656.0L1264.4 656.0L1264.8 656.0L1266.2 656.0L1267.6 655.9L1269.0 655.7L1270.5 655.5L1271.9 655.4L1272.1 655.3L1273.3 655.2L1274.7 655.0L1276.1 654.7L1277.5 654.4L1278.9 654.1L1279.8 653.9L1280.3 653.8L1281.7 653.5L1283.1 653.2L1284.5 652.7L1285.6 652.4L1285.9 652.3L1287.3 651.8L1288.8 651.1L1290.2 650.4L1290.5 650.2L1291.6 649.4L1293.0 648.1L1294.3 646.8L1294.4 646.7L1295.8 645.4L1297.2 644.0L1298.6 642.6L1299.2 642.0L1300.0 641.2L1301.4 639.7L1302.8 638.3L1304.0 637.0L1304.2 636.8L1305.6 635.4L1307.1 633.9L1308.5 632.3L1308.8 631.8L1309.9 630.4L1311.3 628.2L1312.7 625.9L1312.7 625.9L1314.1 623.5L1315.5 621.2L1316.6 619.5L1316.9 619.0L1318.3 617.0L1319.5 616.0L1319.7 615.9L1321.1 615.5L1322.0 615.4L1322.5 615.5L1323.9 615.9L1324.7 616.3L1325.3 616.9L1326.8 618.8L1328.2 621.2L1328.2 621.2L1329.6 623.7L1331.0 626.3L1331.1 626.5L1332.4 629.2L1333.8 632.0L1334.0 632.3L1335.2 634.1L1336.6 635.9L1337.8 637.2L1338.0 637.4L1339.4 638.7L1340.8 639.8L1342.2 640.9L1342.7 641.3L1343.6 642.1L1345.1 643.3L1346.5 644.4L1347.5 645.2L1347.9 645.5L1349.3 646.5L1350.7 647.4L1352.1 648.2L1352.3 648.4L1353.5 648.9L1354.9 649.5L1356.3 650.0L1357.2 650.2L1357.7 650.3L1359.1 650.6L1360.5 650.8L1361.9 650.9L1363.0 651.0L1363.4 651.0L1364.8 651.1L1366.2 651.1L1367.6 651.1L1369.0 651.2L1370.4 651.2L1370.7 651.2L1371.8 651.3L1373.2 651.4L1374.6 651.5L1376.0 651.7L1377.4 651.8L1378.4 651.9L1378.8 652.0L1380.2 652.1L1381.7 652.3L1383.1 652.5L1384.5 652.6L1385.9 652.7L1387.3 652.8L1388.1 652.8L1388.7 652.8L1390.1 652.7L1391.5 652.6L1392.9 652.4L1394.3 652.2L1395.7 652.0L1395.8 651.9L1397.1 651.7L1398.5 651.3L1399.9 650.8L1401.4 650.4L1402.6 649.9L1402.8 649.9L1404.2 649.4L1405.6 648.8L1407.0 648.2L1407.4 648.1L1408.4 647.8L1409.8 647.3L1411.2 647.0L1411.3 647.0L1412.6 647.1L1414.0 647.4L1415.2 647.8L1415.4 647.9L1416.8 648.8L1418.2 650.2L1419.0 650.9L1419.7 651.4L1421.1 652.6L1422.5 653.6L1422.9 653.9L1423.9 654.5L1425.3 655.3L1426.7 656.0L1427.7 656.4L1428.1 656.5L1429.5 656.9L1430.9 657.3L1432.3 657.6L1433.7 657.8L1434.5 657.9L1435.1 658.0L1436.5 658.2L1438.0 658.4L1439.4 658.6L1440.8 658.7L1442.2 658.7L1442.2 658.7L1443.6 658.7L1445.0 658.7L1446.4 658.7L1447.8 658.7L1449.2 658.7L1450.6 658.7L1451.9 658.7L1452.0 658.7L1453.4 658.7L1454.8 658.6L1456.3 658.4L1457.7 658.2L1459.1 658.0L1459.6 657.9L1460.5 657.8L1461.9 657.2L1463.3 656.8L1463.5 656.7L1464.7 656.4L1466.1 656.1L1467.4 656.0L1467.5 656.0L1468.9 656.2L1470.3 656.4L1471.7 656.7L1473.1 656.9L1473.2 656.9L1474.5 657.0L1476.0 657.1L1477.4 657.1L1478.8 657.2L1479.0 657.2L1480.2 657.2L1481.6 657.2L1483.0 657.3L1484.4 657.3L1485.8 657.3L1487.2 657.4L1488.6 657.4L1490.0 657.4L1491.4 657.4L1492.8 657.4L1494.3 657.4L1494.5 657.4L1495.7 657.4L1497.1 657.2L1498.5 657.0L1499.9 656.8L1500.3 656.7L1501.3 656.6L1502.7 656.5L1504.1 656.4L1505.1 656.3L1505.5 656.4L1506.9 656.5L1508.3 656.8L1509.7 657.1L1511.1 657.4L1511.9 657.4L1512.6 657.4L1514.0 657.4L1515.4 657.3L1516.8 657.3L1518.2 657.2L1519.6 657.2L1521.0 657.2L1521.5 657.2L1522.4 657.2L1523.8 657.4L1525.2 657.6L1526.6 657.8L1528.0 658.0L1529.3 658.0L1529.4 658.0L1530.9 658.0L1532.3 657.9L1533.7 657.9L1535.1 657.8L1536.5 657.8L1537.0 657.8L1537.9 657.9L1539.3 658.2L1540.7 658.5L1540.9 658.6L1542.1 658.9L1543.5 659.4L1544.9 659.9L1546.3 660.3L1546.7 660.4L1547.7 660.6L1549.2 660.8L1550.6 661.0L1552.0 661.1L1552.5 661.2L1553.4 661.2L1554.8 661.3L1556.2 661.4L1557.6 661.5L1559.0 661.5L1560.4 661.6L1561.8 661.6L1562.1 661.6L1563.2 661.6L1564.6 661.6L1566.0 661.6L1567.4 661.6L1568.9 661.6L1570.3 661.6L1571.7 661.6L1573.1 661.6L1573.7 661.6L1574.5 661.6L1575.9 661.6L1577.3 661.6L1578.7 661.5L1580.1 661.4L1581.5 661.4L1582.9 661.3L1583.4 661.3L1584.3 661.2L1585.7 661.1L1587.2 661.1L1588.6 661.0L1590.0 660.9L1591.4 660.8L1592.8 660.7L1593.1 660.7L1594.2 660.6L1595.6 660.5L1597.0 660.4L1598.4 660.4L1599.8 660.3L1601.2 660.2L1602.6 660.1L1604.0 660.0L1604.7 659.9L1605.5 659.9L1606.9 659.7L1608.3 659.6L1609.7 659.4L1611.1 659.2L1612.4 659.0L1612.5 659.0L1613.9 658.7L1615.3 658.3L1616.7 657.8L1618.1 657.3L1618.2 657.3L1619.5 656.7L1620.9 656.0L1622.3 655.2L1623.8 654.3L1624.0 654.1L1625.2 653.2L1626.6 652.0L1628.0 650.6L1629.4 649.2L1629.8 648.8L1630.8 647.9L1632.2 646.5L1633.6 645.1L1635.0 643.6L1635.6 642.9L1636.4 641.8L1637.8 639.8L1639.2 637.6L1639.5 637.3L1640.6 635.4L1642.0 633.4L1642.4 633.1L1643.5 632.2L1644.9 631.5L1644.9 631.5L1646.3 632.1L1647.6 633.1L1647.7 633.2L1649.1 635.3L1650.5 638.0L1651.1 639.0L1651.9 640.4L1653.3 642.8L1654.7 644.7L1654.9 644.9L1656.1 645.9L1657.5 646.7L1658.9 647.5L1660.3 648.3L1660.7 648.5L1661.8 649.3L1663.2 650.4L1664.6 651.5L1666.0 652.5L1666.5 652.9L1667.4 653.4L1668.8 654.1L1670.2 654.8L1671.6 655.4L1672.3 655.6L1673.0 655.8L1674.4 656.1L1675.8 656.5L1677.2 656.7L1678.6 656.8L1679.1 656.9L1680.1 656.9L1681.5 656.9L1682.9 656.9L1684.3 656.9L1685.7 656.9L1687.1 656.9L1688.5 656.9L1689.9 656.9L1691.3 657.0L1691.7 657.0L1692.7 657.0L1694.1 657.0L1695.5 657.1L1696.9 657.2L1698.4 657.2L1699.8 657.3L1701.2 657.4L1702.6 657.5L1704.0 657.6L1705.2 657.6L1705.4 657.6L1706.8 657.7L1708.2 657.8L1709.6 657.8L1711.0 657.9L1712.4 657.9L1713.8 658.0L1715.2 658.0L1716.6 658.0L1716.8 658.0L1718.1 658.0L1719.5 658.1L1720.9 658.1L1722.3 658.1L1723.7 658.1L1725.1 658.1L1726.5 658.1L1726.5 658.1L1727.9 658.1L1729.3 658.2L1730.7 658.3L1732.1 658.5L1733.5 658.6L1734.9 658.8L1736.1 658.9L1736.4 658.9L1737.8 659.0L1739.2 659.1L1740.6 659.2L1742.0 659.3L1743.4 659.4L1744.8 659.6L1745.8 659.6L1746.2 659.7L1747.6 659.8L1749.0 660.0L1750.4 660.1L1751.8 660.3L1753.2 660.4L1753.2 677.3Z" fill="#6070ff"/>
<path d="M692.4 766.4L692.4 749.8L693.9 749.8L695.3 749.8L696.8 749.8L698.3 749.7L699.7 749.7L701.2 749.7L702.7 749.7L704.1 749.7L705.6 749.7L707.0 749.7L708.5 749.7L710.0 749.7L711.4 749.7L712.9 749.7L714.4 749.7L715.8 749.7L717.3 749.6L718.7 749.6L720.2 749.6L721.7 749.6L723.1 749.6L724.6 749.6L726.1 749.6L727.5 749.6L729.0 749.6L730.4 749.6L731.9 749.5L733.4 749.5L734.8 749.5L736.3 749.5L737.8 749.5L739.2 749.5L740.7 749.5L742.2 749.5L743.6 749.4L745.1 749.4L746.5 749.4L748.0 749.4L749.5 749.4L750.9 749.4L752.4 749.4L753.9 749.3L755.3 749.3L756.8 749.3L758.2 749.3L759.7 749.3L760.8 749.3L761.2 749.3L762.6 749.3L764.1 749.2L765.6 749.2L767.0 749.2L768.5 749.2L769.9 749.2L771.4 749.2L772.9 749.2L774.3 749.1L775.8 749.1L777.3 749.1L778.7 749.1L780.2 749.1L781.6 749.0L783.1 749.0L784.6 749.0L786.0 749.0L787.5 748.9L789.0 748.9L790.4 748.9L791.9 748.9L792.9 748.8L793.3 748.8L794.8 748.8L796.3 748.7L797.7 748.7L799.2 748.6L800.7 748.6L802.1 748.5L803.6 748.4L805.1 748.3L806.5 748.2L808.0 748.1L809.4 748.0L810.9 747.9L811.0 747.9L812.4 747.8L813.8 747.6L815.3 747.5L816.8 747.3L818.2 747.1L819.7 746.8L821.0 746.5L821.1 746.5L822.6 746.2L824.1 745.7L825.5 745.2L827.0 744.6L828.5 744.0L829.1 743.7L829.9 743.3L831.4 742.7L832.8 741.9L834.3 741.0L835.8 740.0L836.1 739.7L837.2 738.7L838.7 737.1L840.2 735.2L841.1 733.7L841.6 732.8L843.1 729.3L844.1 726.4L844.5 725.2L846.0 720.2L847.2 716.3L847.5 715.4L848.9 710.7L850.4 706.4L851.2 704.4L851.9 702.7L853.3 699.7L853.6 699.4L854.8 698.8L856.2 698.4L856.8 698.3L857.7 698.6L859.2 699.5L860.6 700.0L860.6 700.0L862.1 697.8L863.2 694.6L863.6 693.6L865.0 687.8L866.3 682.5L866.5 681.5L868.0 675.3L869.3 670.4L869.4 670.0L870.9 665.3L872.3 662.1L872.9 661.8L873.8 662.8L875.3 667.1L876.3 670.4L876.7 671.7L878.2 676.9L879.3 679.7L879.7 680.2L881.1 682.0L882.3 682.7L882.6 682.8L884.0 683.1L885.5 683.3L887.0 683.5L888.4 683.5L888.4 683.5L889.9 683.1L891.4 682.3L892.8 681.3L894.3 680.6L895.4 680.4L895.7 680.4L897.2 680.9L898.7 681.9L900.1 683.1L900.4 683.3L901.6 684.6L903.1 686.7L903.4 687.3L904.5 689.6L906.0 693.3L906.4 694.6L907.4 697.8L908.9 702.9L909.5 704.7L910.4 707.3L911.8 711.2L912.5 712.7L913.3 714.5L914.8 717.4L915.5 718.8L916.2 720.2L917.5 722.1L917.7 722.3L919.1 723.6L920.5 724.4L920.6 724.4L922.1 724.8L923.5 725.1L925.0 725.3L926.5 725.6L927.5 725.8L927.9 725.9L929.4 726.3L930.9 726.7L932.3 727.2L933.6 727.6L933.8 727.7L935.2 728.3L936.7 728.9L938.2 729.1L938.2 729.1L939.6 728.8L941.1 727.9L942.6 726.6L944.0 725.2L945.5 723.7L946.9 722.5L948.4 721.6L949.6 721.4L949.9 721.4L951.3 722.1L952.8 723.7L954.3 725.7L955.7 727.6L955.7 727.7L957.2 729.8L958.6 732.1L959.7 733.7L960.1 734.3L961.6 736.4L963.0 738.3L963.7 738.9L964.5 739.5L966.0 740.6L967.4 741.4L968.9 741.9L969.7 742.0L970.3 742.0L971.8 741.8L973.3 741.4L974.7 740.8L976.2 740.3L976.8 740.1L977.7 739.7L979.1 739.0L980.6 738.2L982.1 737.4L983.5 736.9L984.8 736.7L985.0 736.7L986.4 736.8L987.9 737.2L989.4 737.7L990.8 738.3L992.3 738.9L993.8 739.5L993.8 739.5L995.2 740.0L996.7 740.7L998.1 741.4L999.6 742.1L1001.1 742.7L1001.9 742.9L1002.5 743.1L1004.0 743.5L1005.5 743.9L1006.9 744.2L1008.4 744.5L1009.8 744.8L1011.3 745.0L1012.8 745.1L1013.9 745.1L1014.2 745.1L1015.7 745.1L1017.2 745.1L1018.6 745.0L1020.1 744.9L1021.5 744.9L1023.0 744.8L1024.5 744.6L1025.9 744.5L1026.0 744.5L1027.4 744.4L1028.9 744.2L1030.3 743.9L1031.8 743.6L1033.2 743.3L1034.7 743.1L1036.2 742.8L1037.6 742.6L1038.1 742.5L1039.1 742.4L1040.6 742.2L1042.0 742.0L1043.5 741.8L1045.0 741.6L1046.4 741.5L1047.9 741.4L1049.3 741.3L1050.1 741.3L1050.8 741.3L1052.3 741.4L1053.7 741.5L1055.2 741.6L1056.7 741.8L1058.1 742.0L1059.6 742.3L1061.0 742.5L1062.5 742.8L1064.0 743.1L1065.4 743.3L1066.9 743.6L1068.4 743.9L1069.8 744.1L1070.2 744.1L1071.3 744.3L1072.7 744.5L1074.2 744.7L1075.7 744.9L1077.1 745.1L1078.6 745.4L1080.1 745.6L1081.5 745.8L1083.0 746.0L1084.4 746.2L1085.9 746.3L1087.4 746.5L1088.8 746.6L1090.3 746.7L1090.3 746.7L1091.8 746.8L1093.2 746.9L1094.7 747.0L1096.1 747.1L1097.6 747.2L1099.1 747.3L1100.5 747.4L1102.0 747.4L1103.5 747.4L1104.4 747.4L1104.9 747.4L1106.4 747.4L1107.9 747.3L1109.3 747.3L1110.8 747.2L1112.2 747.0L1113.7 746.9L1115.2 746.8L1116.6 746.7L1118.1 746.6L1118.4 746.5L1119.6 746.5L1121.0 746.4L1122.5 746.3L1123.9 746.1L1125.4 745.9L1125.5 745.9L1126.9 745.6L1128.3 745.1L1129.8 744.4L1130.5 744.1L1131.3 743.8L1132.7 743.1L1134.2 742.3L1135.6 741.7L1136.5 741.3L1137.1 741.1L1138.6 740.6L1140.0 740.2L1141.5 739.8L1142.5 739.5L1143.0 739.4L1144.4 738.9L1145.9 738.4L1147.3 738.2L1147.6 738.2L1148.8 738.3L1150.3 738.8L1151.7 739.2L1152.6 739.3L1153.2 739.2L1154.6 738.9L1154.7 738.9L1156.1 737.7L1157.6 736.0L1158.6 734.9L1159.0 734.5L1160.5 733.1L1162.0 732.0L1162.6 731.6L1163.4 731.3L1164.9 730.9L1166.4 730.6L1166.7 730.6L1167.8 730.8L1169.3 731.4L1170.7 732.0L1170.8 732.1L1172.2 733.1L1173.7 734.4L1174.7 735.3L1175.1 735.6L1176.6 736.9L1178.1 738.1L1179.5 739.2L1179.7 739.3L1181.0 740.2L1182.5 741.1L1183.7 741.5L1183.9 741.5L1185.4 741.8L1186.8 741.9L1187.8 741.9L1188.3 741.9L1189.8 741.8L1191.2 741.7L1192.7 741.6L1194.2 741.4L1195.6 741.3L1196.8 741.3L1197.1 741.3L1198.5 741.3L1200.0 741.4L1201.5 741.5L1202.9 741.5L1204.4 741.6L1205.9 741.6L1206.8 741.6L1207.3 741.6L1208.8 741.5L1210.2 741.4L1211.7 741.2L1213.2 741.0L1214.6 740.7L1214.9 740.7L1216.1 740.5L1217.6 740.2L1219.0 739.9L1220.5 739.5L1222.0 739.1L1222.9 738.9L1223.4 738.8L1224.9 738.3L1226.3 737.9L1227.8 737.3L1228.9 736.9L1229.3 736.7L1230.7 736.0L1232.2 735.2L1233.7 734.3L1234.0 734.0L1235.1 733.0L1236.6 731.3L1238.0 729.5L1238.0 729.5L1239.5 727.7L1241.0 725.9L1242.4 724.0L1243.0 723.3L1243.9 722.1L1245.4 720.3L1246.8 718.4L1248.0 716.7L1248.3 716.4L1249.7 714.5L1251.2 712.6L1252.7 710.5L1253.1 709.9L1254.1 708.0L1255.6 705.1L1257.1 702.1L1257.1 702.0L1258.5 698.9L1260.0 695.8L1261.1 693.6L1261.4 693.0L1262.9 690.3L1264.1 689.0L1264.4 688.8L1265.8 688.3L1266.7 688.2L1267.3 688.3L1268.8 688.9L1269.5 689.4L1270.2 690.1L1271.7 692.8L1273.1 695.9L1273.2 695.9L1274.6 699.1L1276.1 702.6L1276.2 702.8L1277.5 706.5L1279.0 710.1L1279.2 710.5L1280.5 712.9L1281.9 715.2L1283.2 716.9L1283.4 717.2L1284.9 718.9L1286.3 720.4L1287.8 721.9L1288.2 722.3L1289.2 723.4L1290.7 724.9L1292.2 726.4L1293.2 727.4L1293.6 727.8L1295.1 729.1L1296.6 730.4L1298.0 731.4L1298.3 731.6L1299.5 732.3L1300.9 733.1L1302.4 733.8L1303.3 734.0L1303.9 734.2L1305.3 734.5L1306.8 734.8L1308.3 735.0L1309.3 735.1L1309.7 735.1L1311.2 735.1L1312.6 735.2L1314.1 735.2L1315.6 735.3L1317.0 735.3L1317.4 735.3L1318.5 735.4L1320.0 735.6L1321.4 735.8L1322.9 736.0L1324.3 736.1L1325.4 736.3L1325.8 736.3L1327.3 736.5L1328.7 736.7L1330.2 736.9L1331.7 737.1L1333.1 737.3L1334.6 737.4L1335.4 737.4L1336.0 737.4L1337.5 737.3L1339.0 737.1L1340.4 736.9L1341.9 736.6L1343.4 736.3L1343.5 736.3L1344.8 735.9L1346.3 735.4L1347.8 734.8L1349.2 734.2L1350.5 733.7L1350.7 733.6L1352.1 732.9L1353.6 732.1L1355.1 731.4L1355.5 731.2L1356.5 730.8L1358.0 730.2L1359.5 729.8L1359.6 729.8L1360.9 730.0L1362.4 730.4L1363.6 730.8L1363.8 731.0L1365.3 732.2L1366.8 734.0L1367.6 734.9L1368.2 735.5L1369.7 737.1L1371.2 738.5L1371.6 738.9L1372.6 739.7L1374.1 740.7L1375.5 741.6L1376.6 742.1L1377.0 742.3L1378.5 742.8L1379.9 743.3L1381.4 743.6L1382.9 744.0L1383.7 744.1L1384.3 744.2L1385.8 744.5L1387.2 744.7L1388.7 744.9L1390.2 745.1L1391.6 745.1L1391.7 745.1L1393.1 745.1L1394.6 745.1L1396.0 745.1L1397.5 745.1L1398.9 745.1L1400.4 745.1L1401.8 745.1L1401.9 745.1L1403.3 745.1L1404.8 745.0L1406.3 744.8L1407.7 744.5L1409.2 744.2L1409.8 744.1L1410.7 743.9L1412.1 743.2L1413.6 742.6L1413.8 742.5L1415.0 742.1L1416.5 741.8L1417.8 741.6L1418.0 741.6L1419.4 741.8L1420.9 742.1L1422.4 742.5L1423.8 742.7L1423.9 742.7L1425.3 742.8L1426.7 743.0L1428.2 743.0L1429.7 743.1L1429.9 743.1L1431.1 743.2L1432.6 743.2L1434.1 743.2L1435.5 743.3L1437.0 743.3L1438.4 743.4L1439.9 743.4L1441.4 743.4L1442.8 743.4L1444.3 743.4L1445.8 743.4L1446.0 743.4L1447.2 743.4L1448.7 743.1L1450.1 742.8L1451.6 742.6L1452.0 742.5L1453.1 742.4L1454.5 742.2L1456.0 742.1L1457.0 742.0L1457.5 742.0L1458.9 742.3L1460.4 742.7L1461.8 743.1L1463.3 743.4L1464.0 743.4L1464.8 743.4L1466.2 743.4L1467.7 743.3L1469.2 743.3L1470.6 743.2L1472.1 743.1L1473.6 743.1L1474.1 743.1L1475.0 743.2L1476.5 743.3L1477.9 743.6L1479.4 743.9L1480.9 744.1L1482.1 744.2L1482.3 744.2L1483.8 744.2L1485.3 744.1L1486.7 744.0L1488.2 744.0L1489.6 743.9L1490.2 743.9L1491.1 744.0L1492.6 744.4L1494.0 744.9L1494.2 744.9L1495.5 745.4L1497.0 746.1L1498.4 746.7L1499.9 747.3L1500.2 747.3L1501.3 747.6L1502.8 747.9L1504.3 748.1L1505.7 748.3L1506.2 748.4L1507.2 748.4L1508.7 748.5L1510.1 748.6L1511.6 748.7L1513.0 748.8L1514.5 748.8L1516.0 748.9L1516.3 748.9L1517.4 748.9L1518.9 748.9L1520.4 748.9L1521.8 748.9L1523.3 748.9L1524.8 749.0L1526.2 749.0L1527.7 749.0L1528.3 749.0L1529.1 749.0L1530.6 748.9L1532.1 748.9L1533.5 748.8L1535.0 748.7L1536.5 748.6L1537.9 748.5L1538.4 748.5L1539.4 748.4L1540.8 748.3L1542.3 748.2L1543.8 748.1L1545.2 747.9L1546.7 747.8L1548.2 747.7L1548.4 747.7L1549.6 747.6L1551.1 747.5L1552.5 747.4L1554.0 747.3L1555.5 747.2L1556.9 747.1L1558.4 746.9L1559.9 746.8L1560.5 746.7L1561.3 746.7L1562.8 746.5L1564.2 746.3L1565.7 746.1L1567.2 745.8L1568.5 745.5L1568.6 745.5L1570.1 745.1L1571.6 744.6L1573.0 744.0L1574.5 743.3L1574.6 743.3L1575.9 742.5L1577.4 741.6L1578.9 740.5L1580.3 739.3L1580.6 739.1L1581.8 737.9L1583.3 736.3L1584.7 734.5L1586.2 732.6L1586.6 732.1L1587.7 730.9L1589.1 729.1L1590.6 727.2L1592.0 725.2L1592.6 724.3L1593.5 722.8L1595.0 720.1L1596.4 717.3L1596.7 716.8L1597.9 714.4L1599.4 711.7L1599.7 711.3L1600.8 710.1L1602.3 709.2L1602.3 709.2L1603.7 709.9L1605.1 711.3L1605.2 711.4L1606.7 714.2L1608.1 717.8L1608.7 719.1L1609.6 721.0L1611.1 724.1L1612.5 726.7L1612.7 726.9L1614.0 728.2L1615.4 729.3L1616.9 730.3L1618.4 731.4L1618.8 731.7L1619.8 732.7L1621.3 734.2L1622.8 735.7L1624.2 737.0L1624.8 737.5L1625.7 738.1L1627.1 739.1L1628.6 740.0L1630.1 740.8L1630.8 741.0L1631.5 741.3L1633.0 741.8L1634.5 742.2L1635.9 742.5L1637.4 742.7L1637.9 742.7L1638.8 742.7L1640.3 742.7L1641.8 742.8L1643.2 742.8L1644.7 742.8L1646.2 742.8L1647.6 742.8L1649.1 742.8L1650.6 742.8L1650.9 742.8L1652.0 742.9L1653.5 742.9L1654.9 743.0L1656.4 743.1L1657.9 743.2L1659.3 743.3L1660.8 743.4L1662.3 743.6L1663.7 743.7L1665.0 743.7L1665.2 743.7L1666.6 743.8L1668.1 743.9L1669.6 744.0L1671.0 744.0L1672.5 744.1L1674.0 744.2L1675.4 744.2L1676.9 744.2L1677.0 744.2L1678.3 744.3L1679.8 744.3L1681.3 744.3L1682.7 744.3L1684.2 744.3L1685.7 744.3L1687.1 744.3L1687.1 744.3L1688.6 744.4L1690.0 744.5L1691.5 744.7L1693.0 744.8L1694.4 745.0L1695.9 745.2L1697.1 745.3L1697.4 745.4L1698.8 745.5L1700.3 745.6L1701.7 745.8L1703.2 745.9L1704.7 746.1L1706.1 746.2L1707.2 746.3L1707.6 746.4L1709.1 746.6L1710.5 746.7L1712.0 746.9L1713.5 747.1L1714.9 747.3L1714.9 766.4Z" fill="#00ffff"/>
<path d="M609.2 862.8L609.2 845.2L610.7 845.1L612.2 845.1L613.7 845.1L615.3 845.1L616.8 845.1L618.3 845.1L619.8 845.1L621.4 845.1L622.9 845.1L624.4 845.1L625.9 845.1L627.5 845.1L629.0 845.1L630.5 845.0L632.0 845.0L633.5 845.0L635.1 845.0L636.6 845.0L638.1 845.0L639.6 845.0L641.2 845.0L642.7 844.9L644.2 844.9L645.7 844.9L647.2 844.9L648.8 844.9L650.3 844.9L651.8 844.9L653.3 844.8L654.9 844.8L656.4 844.8L657.9 844.8L659.4 844.8L660.9 844.8L662.5 844.7L664.0 844.7L665.5 844.7L667.0 844.7L668.6 844.7L670.1 844.7L671.6 844.6L673.1 844.6L674.6 844.6L676.2 844.6L677.7 844.6L679.2 844.6L680.3 844.5L680.7 844.5L682.3 844.5L683.8 844.5L685.3 844.5L686.8 844.5L688.4 844.4L689.9 844.4L691.4 844.4L692.9 844.4L694.4 844.4L696.0 844.3L697.5 844.3L699.0 844.3L700.5 844.3L702.1 844.2L703.6 844.2L705.1 844.2L706.6 844.2L708.1 844.1L709.7 844.1L711.2 844.0L712.7 844.0L713.8 844.0L714.2 844.0L715.8 843.9L717.3 843.9L718.8 843.8L720.3 843.7L721.8 843.6L723.4 843.5L724.9 843.4L726.4 843.3L727.9 843.2L729.5 843.1L731.0 843.0L732.5 842.8L732.6 842.8L734.0 842.7L735.6 842.5L737.1 842.3L738.6 842.0L740.1 841.7L741.6 841.4L743.1 841.1L743.2 841.0L744.7 840.6L746.2 840.0L747.7 839.4L749.3 838.6L750.8 837.8L751.4 837.5L752.3 837.0L753.8 836.2L755.3 835.2L756.9 834.0L758.4 832.7L758.7 832.4L759.9 831.2L761.4 829.2L763.0 826.7L764.0 824.8L764.5 823.6L766.0 819.3L767.1 815.6L767.5 814.1L769.0 807.8L770.2 802.8L770.6 801.6L772.1 795.7L773.6 790.3L774.4 787.7L775.1 785.6L776.7 781.7L776.9 781.4L778.2 780.6L779.7 780.1L780.3 780.0L781.2 780.3L782.8 781.5L784.3 782.2L784.3 782.2L785.8 779.3L787.0 775.3L787.3 774.1L788.8 766.7L790.1 760.0L790.4 758.8L791.9 750.9L793.3 744.7L793.4 744.1L794.9 738.2L796.5 734.2L797.0 733.8L798.0 735.1L799.5 740.5L800.6 744.7L801.0 746.4L802.5 752.9L803.7 756.4L804.1 757.1L805.6 759.3L806.8 760.3L807.1 760.3L808.6 760.7L810.2 761.0L811.7 761.2L813.1 761.3L813.2 761.3L814.7 760.8L816.2 759.7L817.8 758.5L819.3 757.6L820.4 757.4L820.8 757.4L822.3 758.0L823.9 759.2L825.4 760.7L825.7 761.0L826.9 762.6L828.4 765.3L828.8 766.1L830.0 769.0L831.5 773.7L831.9 775.3L833.0 779.4L834.5 785.9L835.1 788.0L836.0 791.4L837.6 796.3L838.2 798.2L839.1 800.6L840.6 804.2L841.4 805.9L842.1 807.7L843.4 810.2L843.7 810.4L845.2 812.1L846.6 813.0L846.7 813.1L848.2 813.6L849.7 813.9L851.3 814.2L852.8 814.5L853.9 814.8L854.3 814.9L855.8 815.4L857.4 816.0L858.9 816.6L860.2 817.1L860.4 817.2L861.9 818.0L863.4 818.7L865.0 819.0L865.0 819.0L866.5 818.6L868.0 817.5L869.5 815.8L871.1 814.0L872.6 812.2L874.1 810.6L875.6 809.5L876.9 809.2L877.2 809.2L878.7 810.2L880.2 812.2L881.7 814.7L883.2 817.1L883.2 817.2L884.8 819.8L886.3 822.8L887.4 824.8L887.8 825.5L889.3 828.2L890.9 830.6L891.6 831.4L892.4 832.2L893.9 833.5L895.4 834.6L896.9 835.2L897.8 835.4L898.5 835.3L900.0 835.0L901.5 834.5L903.0 833.8L904.6 833.2L905.1 832.9L906.1 832.5L907.6 831.5L909.1 830.5L910.6 829.5L912.2 828.8L913.5 828.6L913.7 828.6L915.2 828.8L916.7 829.2L918.3 829.9L919.8 830.6L921.3 831.4L922.8 832.1L922.9 832.1L924.4 832.8L925.9 833.7L927.4 834.6L928.9 835.5L930.4 836.2L931.3 836.5L932.0 836.7L933.5 837.2L935.0 837.7L936.5 838.1L938.1 838.5L939.6 838.8L941.1 839.1L942.6 839.2L943.8 839.3L944.1 839.3L945.7 839.3L947.2 839.2L948.7 839.1L950.2 839.0L951.8 838.9L953.3 838.8L954.8 838.7L956.3 838.5L956.4 838.5L957.8 838.3L959.4 838.1L960.9 837.8L962.4 837.4L963.9 837.0L965.5 836.7L967.0 836.3L968.5 836.0L968.9 836.0L970.0 835.8L971.5 835.6L973.1 835.3L974.6 835.1L976.1 834.8L977.6 834.7L979.2 834.5L980.7 834.5L981.5 834.4L982.2 834.5L983.7 834.5L985.3 834.7L986.8 834.8L988.3 835.1L989.8 835.4L991.3 835.7L992.9 836.0L994.4 836.3L995.9 836.7L997.4 837.0L999.0 837.4L1000.5 837.7L1002.0 837.9L1002.4 838.0L1003.5 838.2L1005.0 838.5L1006.6 838.7L1008.1 839.0L1009.6 839.3L1011.1 839.6L1012.7 839.8L1014.2 840.1L1015.7 840.4L1017.2 840.6L1018.7 840.8L1020.3 841.0L1021.8 841.2L1023.3 841.3L1023.3 841.3L1024.8 841.5L1026.4 841.6L1027.9 841.7L1029.4 841.8L1030.9 841.9L1032.5 842.0L1034.0 842.1L1035.5 842.2L1037.0 842.2L1038.0 842.2L1038.5 842.2L1040.1 842.2L1041.6 842.1L1043.1 842.0L1044.6 841.9L1046.2 841.7L1047.7 841.6L1049.2 841.4L1050.7 841.3L1052.2 841.1L1052.6 841.1L1053.8 841.0L1055.3 840.9L1056.8 840.7L1058.3 840.5L1059.9 840.3L1059.9 840.3L1061.4 839.9L1062.9 839.2L1064.4 838.4L1065.1 838.0L1065.9 837.6L1067.5 836.7L1069.0 835.8L1070.5 834.9L1071.4 834.4L1072.0 834.2L1073.6 833.6L1075.1 833.0L1076.6 832.5L1077.7 832.1L1078.1 832.0L1079.7 831.4L1081.2 830.8L1082.7 830.5L1082.9 830.5L1084.2 830.7L1085.7 831.3L1087.3 831.8L1088.2 831.9L1088.8 831.8L1090.2 831.4L1090.3 831.4L1091.8 829.9L1093.4 827.7L1094.4 826.3L1094.9 825.8L1096.4 824.1L1097.9 822.6L1098.6 822.2L1099.4 821.8L1101.0 821.2L1102.5 820.9L1102.8 820.9L1104.0 821.1L1105.5 821.9L1107.0 822.7L1107.1 822.8L1108.6 824.0L1110.1 825.7L1111.2 826.8L1111.6 827.3L1113.1 828.8L1114.7 830.4L1116.2 831.7L1116.4 831.9L1117.7 833.0L1119.2 834.1L1120.6 834.7L1120.8 834.7L1122.3 835.0L1123.8 835.2L1124.8 835.2L1125.3 835.2L1126.9 835.1L1128.4 835.0L1129.9 834.8L1131.4 834.6L1132.9 834.5L1134.2 834.4L1134.5 834.4L1136.0 834.5L1137.5 834.5L1139.0 834.6L1140.6 834.7L1142.1 834.8L1143.6 834.8L1144.6 834.9L1145.1 834.8L1146.6 834.7L1148.2 834.6L1149.7 834.3L1151.2 834.0L1152.7 833.7L1153.0 833.7L1154.3 833.4L1155.8 833.1L1157.3 832.6L1158.8 832.2L1160.3 831.7L1161.4 831.4L1161.9 831.2L1163.4 830.7L1164.9 830.1L1166.4 829.4L1167.6 828.8L1168.0 828.7L1169.5 827.8L1171.0 826.8L1172.5 825.5L1172.9 825.2L1174.1 823.9L1175.6 821.7L1177.0 819.5L1177.1 819.5L1178.6 817.2L1180.1 814.9L1181.7 812.5L1182.3 811.6L1183.2 810.2L1184.7 807.8L1186.2 805.4L1187.5 803.3L1187.8 802.9L1189.3 800.5L1190.8 798.1L1192.3 795.4L1192.7 794.6L1193.8 792.2L1195.4 788.6L1196.9 784.8L1196.9 784.7L1198.4 780.8L1199.9 776.8L1201.1 774.1L1201.5 773.3L1203.0 769.9L1204.2 768.2L1204.5 768.0L1206.0 767.4L1207.0 767.2L1207.5 767.3L1209.1 768.1L1209.9 768.8L1210.6 769.7L1212.1 773.0L1213.6 777.0L1213.6 777.0L1215.2 781.0L1216.7 785.4L1216.8 785.7L1218.2 790.3L1219.7 795.0L1219.9 795.5L1221.3 798.4L1222.8 801.3L1224.1 803.6L1224.3 803.9L1225.8 806.0L1227.3 808.0L1228.9 809.8L1229.3 810.4L1230.4 811.8L1231.9 813.7L1233.4 815.6L1234.6 816.9L1235.0 817.3L1236.5 819.0L1238.0 820.6L1239.5 821.9L1239.8 822.1L1241.0 823.1L1242.6 824.1L1244.1 824.9L1245.0 825.2L1245.6 825.4L1247.1 825.8L1248.7 826.2L1250.2 826.4L1251.3 826.5L1251.7 826.6L1253.2 826.6L1254.7 826.7L1256.3 826.8L1257.8 826.8L1259.3 826.9L1259.7 826.9L1260.8 827.0L1262.4 827.2L1263.9 827.4L1265.4 827.7L1266.9 827.9L1268.0 828.1L1268.4 828.1L1270.0 828.4L1271.5 828.7L1273.0 828.9L1274.5 829.2L1276.1 829.4L1277.6 829.5L1278.5 829.5L1279.1 829.5L1280.6 829.4L1282.2 829.1L1283.7 828.8L1285.2 828.5L1286.7 828.1L1286.8 828.1L1288.2 827.6L1289.8 827.0L1291.3 826.3L1292.8 825.5L1294.2 824.8L1294.3 824.7L1295.9 823.8L1297.4 822.8L1298.9 822.0L1299.4 821.7L1300.4 821.1L1301.9 820.3L1303.5 819.9L1303.6 819.9L1305.0 820.1L1306.5 820.6L1307.8 821.2L1308.0 821.3L1309.6 823.0L1311.1 825.1L1311.9 826.3L1312.6 827.1L1314.1 829.1L1315.6 830.9L1316.1 831.4L1317.2 832.4L1318.7 833.7L1320.2 834.8L1321.4 835.5L1321.7 835.6L1323.3 836.3L1324.8 836.9L1326.3 837.4L1327.8 837.8L1328.7 838.0L1329.4 838.2L1330.9 838.5L1332.4 838.8L1333.9 839.0L1335.4 839.2L1337.0 839.3L1337.0 839.3L1338.5 839.3L1340.0 839.3L1341.5 839.3L1343.1 839.3L1344.6 839.3L1346.1 839.3L1347.5 839.3L1347.6 839.3L1349.1 839.2L1350.7 839.1L1352.2 838.8L1353.7 838.5L1355.2 838.2L1355.9 838.0L1356.8 837.7L1358.3 836.9L1359.8 836.1L1360.0 836.0L1361.3 835.5L1362.8 835.0L1364.2 834.9L1364.4 834.9L1365.9 835.1L1367.4 835.5L1368.9 835.9L1370.5 836.2L1370.5 836.2L1372.0 836.4L1373.5 836.5L1375.0 836.6L1376.6 836.7L1376.8 836.7L1378.1 836.8L1379.6 836.8L1381.1 836.9L1382.6 837.0L1384.2 837.0L1385.7 837.0L1387.2 837.1L1388.7 837.1L1390.3 837.1L1391.8 837.1L1393.3 837.1L1393.5 837.1L1394.8 837.0L1396.3 836.7L1397.9 836.4L1399.4 836.0L1399.8 836.0L1400.9 835.8L1402.4 835.6L1404.0 835.4L1405.0 835.4L1405.5 835.4L1407.0 835.7L1408.5 836.2L1410.0 836.7L1411.6 837.0L1412.3 837.1L1413.1 837.1L1414.6 837.1L1416.1 837.0L1417.7 836.9L1419.2 836.8L1420.7 836.8L1422.2 836.7L1422.8 836.7L1423.8 836.8L1425.3 837.0L1426.8 837.4L1428.3 837.7L1429.8 838.0L1431.2 838.1L1431.4 838.1L1432.9 838.1L1434.4 838.0L1435.9 837.9L1437.5 837.8L1439.0 837.8L1439.5 837.8L1440.5 837.9L1442.0 838.4L1443.5 839.0L1443.7 839.0L1445.1 839.6L1446.6 840.5L1448.1 841.3L1449.6 842.0L1450.0 842.1L1451.2 842.4L1452.7 842.8L1454.2 843.1L1455.7 843.3L1456.3 843.4L1457.2 843.5L1458.8 843.6L1460.3 843.7L1461.8 843.8L1463.3 843.9L1464.9 844.0L1466.4 844.0L1466.7 844.0L1467.9 844.0L1469.4 844.1L1471.0 844.1L1472.5 844.1L1474.0 844.1L1475.5 844.1L1477.0 844.1L1478.6 844.1L1479.3 844.1L1480.1 844.1L1481.6 844.1L1483.1 844.0L1484.7 843.9L1486.2 843.8L1487.7 843.7L1489.2 843.6L1489.7 843.5L1490.7 843.4L1492.3 843.3L1493.8 843.2L1495.3 843.0L1496.8 842.8L1498.4 842.7L1499.9 842.5L1500.2 842.5L1501.4 842.4L1502.9 842.3L1504.4 842.1L1506.0 842.0L1507.5 841.9L1509.0 841.7L1510.5 841.6L1512.1 841.4L1512.7 841.3L1513.6 841.2L1515.1 841.0L1516.6 840.8L1518.2 840.5L1519.7 840.1L1521.1 839.8L1521.2 839.8L1522.7 839.3L1524.2 838.6L1525.8 837.9L1527.3 837.0L1527.4 836.9L1528.8 836.0L1530.3 834.8L1531.9 833.5L1533.4 832.0L1533.6 831.7L1534.9 830.3L1536.4 828.2L1537.9 826.0L1539.5 823.7L1539.9 823.1L1541.0 821.5L1542.5 819.4L1544.0 817.1L1545.6 814.6L1546.2 813.5L1547.1 811.8L1548.6 808.5L1550.1 805.1L1550.4 804.5L1551.6 801.5L1553.2 798.3L1553.5 797.8L1554.7 796.3L1556.2 795.2L1556.2 795.2L1557.7 796.1L1559.2 797.8L1559.3 797.9L1560.8 801.3L1562.3 805.7L1562.9 807.3L1563.8 809.6L1565.3 813.4L1566.9 816.5L1567.1 816.8L1568.4 818.3L1569.9 819.7L1571.4 820.9L1573.0 822.2L1573.4 822.6L1574.5 823.8L1576.0 825.6L1577.5 827.4L1579.1 829.1L1579.7 829.7L1580.6 830.5L1582.1 831.7L1583.6 832.9L1585.1 833.8L1585.9 834.1L1586.7 834.4L1588.2 835.0L1589.7 835.6L1591.2 836.0L1592.8 836.2L1593.2 836.2L1594.3 836.2L1595.8 836.3L1597.3 836.3L1598.8 836.3L1600.4 836.3L1601.9 836.3L1603.4 836.3L1604.9 836.4L1606.5 836.4L1606.8 836.4L1608.0 836.4L1609.5 836.5L1611.0 836.6L1612.5 836.7L1614.1 836.9L1615.6 837.0L1617.1 837.1L1618.6 837.3L1620.2 837.4L1621.5 837.5L1621.7 837.5L1623.2 837.6L1624.7 837.7L1626.3 837.8L1627.8 837.9L1629.3 838.0L1630.8 838.1L1632.3 838.1L1633.9 838.2L1634.0 838.2L1635.4 838.2L1636.9 838.2L1638.4 838.2L1640.0 838.2L1641.5 838.2L1643.0 838.2L1644.5 838.3L1644.5 838.3L1646.0 838.3L1647.6 838.5L1649.1 838.7L1650.6 838.9L1652.1 839.1L1653.7 839.4L1654.9 839.5L1655.2 839.6L1656.7 839.8L1658.2 839.9L1659.7 840.1L1661.3 840.3L1662.8 840.5L1664.3 840.7L1665.4 840.8L1665.8 840.9L1667.4 841.1L1668.9 841.3L1670.4 841.6L1671.9 841.8L1673.5 842.1L1673.5 862.8Z" fill="#00ff00"/>
<path d="M518.9 967.3L518.9 946.8L520.4 946.8L522.0 946.8L523.6 946.8L525.2 946.8L526.8 946.8L528.4 946.8L530.0 946.8L531.6 946.8L533.1 946.8L534.7 946.8L536.3 946.7L537.9 946.7L539.5 946.7L541.1 946.7L542.7 946.7L544.3 946.7L545.8 946.7L547.4 946.6L549.0 946.6L550.6 946.6L552.2 946.6L553.8 946.6L555.4 946.5L557.0 946.5L558.5 946.5L560.1 946.5L561.7 946.5L563.3 946.4L564.9 946.4L566.5 946.4L568.1 946.4L569.7 946.4L571.2 946.3L572.8 946.3L574.4 946.3L576.0 946.3L577.6 946.2L579.2 946.2L580.8 946.2L582.3 946.2L583.9 946.2L585.5 946.1L587.1 946.1L588.7 946.1L590.3 946.1L591.9 946.0L593.0 946.0L593.5 946.0L595.0 946.0L596.6 946.0L598.2 945.9L599.8 945.9L601.4 945.9L603.0 945.9L604.6 945.8L606.2 945.8L607.7 945.8L609.3 945.7L610.9 945.7L612.5 945.7L614.1 945.7L615.7 945.6L617.3 945.6L618.9 945.5L620.4 945.5L622.0 945.4L623.6 945.4L625.2 945.3L626.8 945.3L627.9 945.3L628.4 945.2L630.0 945.2L631.6 945.1L633.1 945.0L634.7 944.9L636.3 944.8L637.9 944.7L639.5 944.5L641.1 944.4L642.7 944.2L644.3 944.0L645.8 943.9L647.4 943.7L647.5 943.7L649.0 943.5L650.6 943.2L652.2 942.9L653.8 942.6L655.4 942.2L657.0 941.8L658.4 941.3L658.5 941.3L660.1 940.7L661.7 939.9L663.3 939.0L664.9 938.0L666.5 936.9L667.2 936.5L668.1 935.8L669.7 934.6L671.2 933.3L672.8 931.8L674.4 930.0L674.8 929.5L676.0 927.8L677.6 925.1L679.2 921.8L680.2 919.1L680.8 917.6L682.4 911.7L683.5 906.7L683.9 904.7L685.5 896.1L686.8 889.4L687.1 887.7L688.7 879.7L690.3 872.3L691.1 868.9L691.9 865.9L693.5 860.7L693.8 860.3L695.1 859.2L696.6 858.5L697.2 858.4L698.2 858.8L699.8 860.4L701.4 861.3L701.4 861.3L703.0 857.4L704.2 852.0L704.6 850.3L706.2 840.3L707.5 831.2L707.8 829.5L709.3 818.8L710.8 810.4L710.9 809.6L712.5 801.6L714.1 796.1L714.7 795.5L715.7 797.3L717.3 804.8L718.4 810.4L718.9 812.7L720.5 821.5L721.7 826.4L722.0 827.2L723.6 830.3L724.9 831.6L725.2 831.7L726.8 832.2L728.4 832.6L730.0 832.9L731.5 832.9L731.6 832.9L733.2 832.3L734.7 830.9L736.3 829.2L737.9 828.0L739.1 827.6L739.5 827.6L741.1 828.5L742.7 830.1L744.3 832.2L744.6 832.6L745.9 834.8L747.4 838.5L747.8 839.5L749.0 843.4L750.6 849.8L751.1 852.0L752.2 857.5L753.8 866.3L754.4 869.3L755.4 873.9L757.0 880.6L757.7 883.1L758.6 886.3L760.1 891.2L760.9 893.5L761.7 895.9L763.1 899.3L763.3 899.7L764.9 901.9L766.4 903.2L766.5 903.3L768.1 904.0L769.7 904.5L771.3 904.8L772.8 905.3L774.0 905.6L774.4 905.8L776.0 906.5L777.6 907.3L779.2 908.1L780.5 908.8L780.8 908.9L782.4 909.9L784.0 910.9L785.5 911.4L785.6 911.4L787.1 910.8L788.7 909.3L790.3 907.0L791.9 904.5L793.5 902.0L795.1 899.9L796.7 898.5L798.0 898.0L798.2 898.1L799.8 899.4L801.4 902.1L803.0 905.5L804.5 908.8L804.6 908.9L806.2 912.5L807.8 916.5L808.9 919.1L809.4 920.2L810.9 923.9L812.5 927.1L813.3 928.2L814.1 929.2L815.7 931.0L817.3 932.5L818.9 933.4L819.8 933.6L820.5 933.5L822.0 933.1L823.6 932.4L825.2 931.5L826.8 930.6L827.4 930.2L828.4 929.6L830.0 928.3L831.6 926.9L833.2 925.6L834.7 924.7L836.2 924.3L836.3 924.3L837.9 924.6L839.5 925.2L841.1 926.1L842.7 927.1L844.3 928.1L845.9 929.1L846.0 929.2L847.4 930.1L849.0 931.3L850.6 932.5L852.2 933.7L853.8 934.7L854.7 935.1L855.4 935.4L857.0 936.0L858.6 936.7L860.1 937.3L861.7 937.8L863.3 938.3L864.9 938.6L866.5 938.8L867.8 938.9L868.1 938.9L869.7 938.9L871.3 938.8L872.8 938.7L874.4 938.6L876.0 938.4L877.6 938.2L879.2 938.0L880.8 937.9L880.9 937.8L882.4 937.6L884.0 937.2L885.5 936.8L887.1 936.3L888.7 935.8L890.3 935.3L891.9 934.9L893.5 934.5L893.9 934.4L895.1 934.2L896.7 933.8L898.2 933.5L899.8 933.1L901.4 932.9L903.0 932.6L904.6 932.4L906.2 932.3L907.0 932.3L907.8 932.3L909.4 932.4L910.9 932.6L912.5 932.9L914.1 933.2L915.7 933.6L917.3 934.0L918.9 934.4L920.5 934.9L922.1 935.4L923.6 935.8L925.2 936.3L926.8 936.7L928.4 937.1L928.8 937.2L930.0 937.4L931.6 937.8L933.2 938.1L934.8 938.5L936.3 938.9L937.9 939.3L939.5 939.6L941.1 940.0L942.7 940.3L944.3 940.7L945.9 941.0L947.5 941.2L949.0 941.5L950.6 941.7L950.6 941.7L952.2 941.8L953.8 942.0L955.4 942.2L957.0 942.3L958.6 942.5L960.2 942.6L961.7 942.7L963.3 942.8L964.9 942.8L965.9 942.8L966.5 942.8L968.1 942.8L969.7 942.7L971.3 942.5L972.9 942.4L974.4 942.2L976.0 942.0L977.6 941.8L979.2 941.6L980.8 941.4L981.2 941.3L982.4 941.2L984.0 941.0L985.6 940.8L987.1 940.6L988.7 940.3L988.8 940.3L990.3 939.7L991.9 938.7L993.5 937.7L994.2 937.2L995.1 936.6L996.7 935.4L998.3 934.1L999.8 932.9L1000.8 932.3L1001.4 931.9L1003.0 931.1L1004.6 930.4L1006.2 929.7L1007.3 929.2L1007.8 929.0L1009.4 928.1L1011.0 927.3L1012.5 926.9L1012.8 926.9L1014.1 927.2L1015.7 928.0L1017.3 928.7L1018.2 928.8L1018.9 928.8L1020.4 928.2L1020.5 928.1L1022.1 926.2L1023.7 923.1L1024.8 921.2L1025.2 920.6L1026.8 918.2L1028.4 916.3L1029.1 915.7L1030.0 915.2L1031.6 914.4L1033.2 914.0L1033.5 914.0L1034.8 914.3L1036.4 915.2L1037.9 916.4L1037.9 916.4L1039.5 918.2L1041.1 920.4L1042.2 921.9L1042.7 922.5L1044.3 924.7L1045.9 926.8L1047.5 928.6L1047.7 928.8L1049.0 930.3L1050.6 931.9L1052.0 932.7L1052.2 932.7L1053.8 933.1L1055.4 933.3L1056.4 933.3L1057.0 933.3L1058.6 933.2L1060.2 933.0L1061.7 932.8L1063.3 932.5L1064.9 932.4L1066.2 932.3L1066.5 932.3L1068.1 932.4L1069.7 932.4L1071.3 932.6L1072.9 932.7L1074.4 932.8L1076.0 932.8L1077.1 932.9L1077.6 932.9L1079.2 932.7L1080.8 932.5L1082.4 932.1L1084.0 931.7L1085.6 931.3L1085.8 931.3L1087.1 930.9L1088.7 930.4L1090.3 929.9L1091.9 929.3L1093.5 928.6L1094.5 928.2L1095.1 927.9L1096.7 927.2L1098.3 926.4L1099.8 925.5L1101.1 924.7L1101.4 924.4L1103.0 923.3L1104.6 921.9L1106.2 920.2L1106.5 919.8L1107.8 918.0L1109.4 915.1L1110.9 912.1L1111.0 912.0L1112.5 909.0L1114.1 905.9L1115.7 902.8L1116.4 901.5L1117.3 899.6L1118.9 896.5L1120.5 893.3L1121.8 890.7L1122.1 890.1L1123.7 887.1L1125.2 883.9L1126.8 880.5L1127.3 879.5L1128.4 876.4L1130.0 871.7L1131.6 866.8L1131.6 866.7L1133.2 861.8L1134.8 856.7L1136.0 853.2L1136.4 852.2L1137.9 847.8L1139.3 845.6L1139.5 845.4L1141.1 844.6L1142.1 844.5L1142.7 844.6L1144.3 845.6L1145.1 846.4L1145.9 847.5L1147.5 851.8L1149.1 856.9L1149.1 856.9L1150.6 862.1L1152.2 867.8L1152.3 868.1L1153.8 874.1L1155.4 880.1L1155.6 880.7L1157.0 884.6L1158.6 888.3L1160.0 891.1L1160.2 891.5L1161.8 894.3L1163.3 896.8L1164.9 899.2L1165.4 900.0L1166.5 901.8L1168.1 904.4L1169.7 906.9L1170.9 908.6L1171.3 909.2L1172.9 911.4L1174.5 913.5L1176.0 915.4L1176.3 915.6L1177.6 916.9L1179.2 918.3L1180.8 919.4L1181.8 919.8L1182.4 920.1L1184.0 920.6L1185.6 921.1L1187.2 921.4L1188.3 921.6L1188.7 921.6L1190.3 921.7L1191.9 921.8L1193.5 921.9L1195.1 921.9L1196.7 922.0L1197.0 922.1L1198.3 922.2L1199.9 922.4L1201.4 922.8L1203.0 923.1L1204.6 923.4L1205.8 923.7L1206.2 923.7L1207.8 924.1L1209.4 924.4L1211.0 924.8L1212.6 925.1L1214.1 925.4L1215.7 925.6L1216.7 925.6L1217.3 925.6L1218.9 925.4L1220.5 925.1L1222.1 924.7L1223.7 924.2L1225.3 923.7L1225.4 923.7L1226.8 923.1L1228.4 922.2L1230.0 921.2L1231.6 920.1L1233.0 919.1L1233.2 919.0L1234.8 917.8L1236.4 916.5L1238.0 915.3L1238.5 915.0L1239.5 914.2L1241.1 913.1L1242.7 912.6L1242.8 912.6L1244.3 912.8L1245.9 913.5L1247.2 914.3L1247.5 914.5L1249.1 916.7L1250.7 919.7L1251.6 921.2L1252.2 922.4L1253.8 925.0L1255.4 927.5L1255.9 928.2L1257.0 929.5L1258.6 931.3L1260.2 932.8L1261.4 933.7L1261.8 933.9L1263.4 934.9L1264.9 935.7L1266.5 936.3L1268.1 936.9L1269.0 937.2L1269.7 937.4L1271.3 937.8L1272.9 938.2L1274.5 938.6L1276.1 938.8L1277.6 938.9L1277.7 938.9L1279.2 938.9L1280.8 938.9L1282.4 938.9L1284.0 938.9L1285.6 938.9L1287.2 938.9L1288.6 938.9L1288.7 938.9L1290.3 938.8L1291.9 938.6L1293.5 938.2L1295.1 937.8L1296.7 937.4L1297.3 937.2L1298.3 936.7L1299.9 935.6L1301.4 934.5L1301.7 934.4L1303.0 933.8L1304.6 933.1L1306.1 932.9L1306.2 932.9L1307.8 933.1L1309.4 933.7L1311.0 934.3L1312.6 934.7L1312.6 934.7L1314.1 935.0L1315.7 935.1L1317.3 935.3L1318.9 935.4L1319.1 935.4L1320.5 935.5L1322.1 935.6L1323.7 935.6L1325.3 935.7L1326.8 935.8L1328.4 935.8L1330.0 935.9L1331.6 935.9L1333.2 935.9L1334.8 936.0L1336.4 936.0L1336.6 936.0L1338.0 935.8L1339.5 935.4L1341.1 934.9L1342.7 934.5L1343.1 934.4L1344.3 934.2L1345.9 933.8L1347.5 933.6L1348.6 933.6L1349.1 933.6L1350.7 934.0L1352.2 934.7L1353.8 935.4L1355.4 935.8L1356.2 935.9L1357.0 935.9L1358.6 935.8L1360.2 935.8L1361.8 935.7L1363.4 935.6L1364.9 935.5L1366.5 935.4L1367.1 935.4L1368.1 935.5L1369.7 935.8L1371.3 936.3L1372.9 936.8L1374.5 937.2L1375.8 937.3L1376.1 937.3L1377.6 937.2L1379.2 937.1L1380.8 937.0L1382.4 936.9L1384.0 936.8L1384.6 936.8L1385.6 937.0L1387.2 937.6L1388.8 938.5L1388.9 938.5L1390.3 939.4L1391.9 940.5L1393.5 941.6L1395.1 942.5L1395.5 942.7L1396.7 943.1L1398.3 943.6L1399.9 944.0L1401.5 944.3L1402.0 944.4L1403.0 944.6L1404.6 944.7L1406.2 944.9L1407.8 945.1L1409.4 945.2L1411.0 945.3L1412.6 945.3L1412.9 945.3L1414.2 945.3L1415.7 945.4L1417.3 945.4L1418.9 945.4L1420.5 945.4L1422.1 945.4L1423.7 945.5L1425.3 945.5L1426.0 945.5L1426.9 945.5L1428.4 945.4L1430.0 945.3L1431.6 945.2L1433.2 945.0L1434.8 944.8L1436.4 944.7L1436.9 944.6L1438.0 944.5L1439.6 944.3L1441.1 944.1L1442.7 943.9L1444.3 943.7L1445.9 943.5L1447.5 943.3L1447.8 943.2L1449.1 943.1L1450.7 942.9L1452.3 942.7L1453.8 942.6L1455.4 942.4L1457.0 942.2L1458.6 942.0L1460.2 941.8L1460.9 941.7L1461.8 941.5L1463.4 941.2L1465.0 940.9L1466.5 940.5L1468.1 940.0L1469.6 939.6L1469.7 939.5L1471.3 938.9L1472.9 938.0L1474.5 936.9L1476.1 935.8L1476.1 935.7L1477.7 934.5L1479.2 932.9L1480.8 931.0L1482.4 929.0L1482.7 928.7L1484.0 926.7L1485.6 924.0L1487.2 921.0L1488.8 918.0L1489.2 917.1L1490.4 915.1L1491.9 912.2L1493.5 909.2L1495.1 906.0L1495.8 904.5L1496.7 902.2L1498.3 897.8L1499.9 893.3L1500.1 892.6L1501.5 888.6L1503.1 884.3L1503.4 883.7L1504.6 881.7L1506.2 880.3L1506.2 880.3L1507.8 881.4L1509.3 883.7L1509.4 883.8L1511.0 888.3L1512.6 894.1L1513.2 896.3L1514.2 899.3L1515.8 904.4L1517.3 908.4L1517.6 908.9L1518.9 910.9L1520.5 912.7L1522.1 914.2L1523.7 915.9L1524.1 916.5L1525.3 918.1L1526.9 920.5L1528.4 922.9L1530.0 925.1L1530.7 925.9L1531.6 927.0L1533.2 928.7L1534.8 930.2L1536.4 931.4L1537.2 931.9L1538.0 932.3L1539.6 933.1L1541.1 933.8L1542.7 934.4L1544.3 934.7L1544.8 934.7L1545.9 934.8L1547.5 934.8L1549.1 934.8L1550.7 934.8L1552.3 934.8L1553.8 934.9L1555.4 934.9L1557.0 934.9L1558.6 934.9L1559.0 934.9L1560.2 935.0L1561.8 935.1L1563.4 935.2L1565.0 935.4L1566.5 935.6L1568.1 935.8L1569.7 936.0L1571.3 936.2L1572.9 936.3L1574.3 936.5L1574.5 936.5L1576.1 936.6L1577.7 936.7L1579.2 936.9L1580.8 937.0L1582.4 937.1L1584.0 937.2L1585.6 937.3L1587.2 937.4L1587.4 937.4L1588.8 937.4L1590.4 937.4L1591.9 937.4L1593.5 937.4L1595.1 937.4L1596.7 937.5L1598.3 937.5L1598.3 937.5L1599.9 937.6L1601.5 937.8L1603.1 938.1L1604.6 938.4L1606.2 938.7L1607.8 939.0L1609.2 939.2L1609.4 939.3L1611.0 939.5L1612.6 939.8L1614.2 940.0L1615.8 940.2L1617.3 940.5L1618.9 940.8L1620.1 941.0L1620.5 941.0L1622.1 941.3L1623.7 941.7L1625.3 942.0L1626.9 942.3L1628.5 942.7L1628.5 967.3Z" fill="#80ff00"/>
<path d="M420.5 1081.3L420.5 1057.8L422.1 1057.7L423.8 1057.7L425.5 1057.7L427.1 1057.7L428.8 1057.7L430.4 1057.7L432.1 1057.7L433.8 1057.6L435.4 1057.6L437.1 1057.6L438.7 1057.6L440.4 1057.6L442.0 1057.6L443.7 1057.5L445.4 1057.5L447.0 1057.5L448.7 1057.5L450.3 1057.4L452.0 1057.4L453.7 1057.4L455.3 1057.4L457.0 1057.3L458.6 1057.3L460.3 1057.3L461.9 1057.3L463.6 1057.2L465.3 1057.2L466.9 1057.2L468.6 1057.1L470.2 1057.1L471.9 1057.1L473.5 1057.0L475.2 1057.0L476.9 1057.0L478.5 1057.0L480.2 1056.9L481.8 1056.9L483.5 1056.9L485.2 1056.8L486.8 1056.8L488.5 1056.8L490.1 1056.7L491.8 1056.7L493.4 1056.6L495.1 1056.6L496.8 1056.6L498.0 1056.6L498.4 1056.5L500.1 1056.5L501.7 1056.5L503.4 1056.4L505.0 1056.4L506.7 1056.4L508.4 1056.3L510.0 1056.3L511.7 1056.3L513.3 1056.2L515.0 1056.2L516.7 1056.1L518.3 1056.1L520.0 1056.0L521.6 1056.0L523.3 1055.9L524.9 1055.9L526.6 1055.8L528.3 1055.7L529.9 1055.7L531.6 1055.6L533.2 1055.5L534.4 1055.5L534.9 1055.4L536.6 1055.3L538.2 1055.2L539.9 1055.1L541.5 1054.9L543.2 1054.8L544.8 1054.6L546.5 1054.4L548.2 1054.2L549.8 1054.0L551.5 1053.7L553.1 1053.4L554.8 1053.2L554.9 1053.2L556.4 1052.9L558.1 1052.5L559.8 1052.1L561.4 1051.6L563.1 1051.0L564.7 1050.4L566.3 1049.8L566.4 1049.7L568.1 1048.8L569.7 1047.7L571.4 1046.4L573.0 1045.0L574.7 1043.4L575.4 1042.8L576.3 1041.8L578.0 1040.1L579.7 1038.2L581.3 1036.0L583.0 1033.4L583.4 1032.8L584.6 1030.3L586.3 1026.4L588.0 1021.6L589.1 1017.8L589.6 1015.6L591.3 1007.0L592.5 999.8L592.9 996.9L594.6 984.5L595.9 974.8L596.2 972.4L597.9 960.9L599.6 950.2L600.4 945.3L601.2 941.0L602.9 933.4L603.2 932.9L604.5 931.3L606.2 930.3L606.8 930.2L607.8 930.8L609.5 933.0L611.1 934.4L611.2 934.4L612.8 928.8L614.1 920.9L614.5 918.5L616.1 904.0L617.5 890.9L617.8 888.5L619.5 873.0L620.9 860.9L621.1 859.8L622.8 848.2L624.4 840.2L625.0 839.5L626.1 842.0L627.7 852.8L628.9 860.9L629.4 864.2L631.1 876.9L632.3 883.9L632.7 885.2L634.4 889.6L635.7 891.4L636.0 891.6L637.7 892.4L639.4 892.9L641.0 893.3L642.6 893.4L642.7 893.4L644.3 892.5L646.0 890.4L647.6 888.0L649.3 886.2L650.6 885.7L651.0 885.8L652.6 887.0L654.3 889.4L655.9 892.3L656.2 892.9L657.6 896.0L659.2 901.4L659.7 902.9L660.9 908.4L662.6 917.7L663.1 920.9L664.2 928.8L665.9 941.6L666.5 945.9L667.5 952.5L669.2 962.1L669.9 965.8L670.9 970.4L672.5 977.5L673.3 980.8L674.2 984.3L675.6 989.2L675.8 989.7L677.5 993.0L679.0 994.8L679.1 994.9L680.8 995.9L682.5 996.6L684.1 997.1L685.8 997.7L687.0 998.3L687.4 998.5L689.1 999.5L690.7 1000.6L692.4 1001.8L693.8 1002.8L694.1 1003.0L695.7 1004.5L697.4 1005.9L699.0 1006.6L699.1 1006.6L700.7 1005.8L702.4 1003.5L704.0 1000.3L705.7 996.7L707.3 993.1L709.0 990.0L710.6 987.9L712.0 987.3L712.3 987.4L714.0 989.2L715.6 993.2L717.3 998.1L718.9 1002.8L718.9 1003.0L720.6 1008.2L722.3 1013.9L723.4 1017.8L723.9 1019.3L725.6 1024.6L727.2 1029.2L728.0 1030.8L728.9 1032.3L730.5 1034.9L732.2 1037.0L733.9 1038.3L734.8 1038.6L735.5 1038.5L737.2 1037.9L738.8 1036.9L740.5 1035.6L742.1 1034.3L742.8 1033.8L743.8 1032.9L745.5 1031.0L747.1 1029.0L748.8 1027.1L750.4 1025.7L751.9 1025.3L752.1 1025.3L753.8 1025.7L755.4 1026.6L757.1 1027.8L758.7 1029.3L760.4 1030.8L762.0 1032.2L762.2 1032.3L763.7 1033.6L765.4 1035.3L767.0 1037.1L768.7 1038.8L770.3 1040.2L771.3 1040.8L772.0 1041.2L773.7 1042.2L775.3 1043.1L777.0 1044.0L778.6 1044.7L780.3 1045.4L781.9 1045.9L783.6 1046.2L784.9 1046.3L785.3 1046.3L786.9 1046.2L788.6 1046.1L790.2 1046.0L791.9 1045.8L793.5 1045.6L795.2 1045.3L796.9 1045.1L798.5 1044.8L798.6 1044.8L800.2 1044.4L801.8 1043.9L803.5 1043.3L805.2 1042.6L806.8 1041.8L808.5 1041.1L810.1 1040.5L811.8 1039.9L812.3 1039.8L813.4 1039.4L815.1 1038.9L816.8 1038.5L818.4 1038.0L820.1 1037.6L821.7 1037.2L823.4 1036.9L825.1 1036.8L825.9 1036.8L826.7 1036.8L828.4 1036.9L830.0 1037.2L831.7 1037.6L833.3 1038.0L835.0 1038.6L836.7 1039.2L838.3 1039.8L840.0 1040.5L841.6 1041.2L843.3 1041.8L844.9 1042.5L846.6 1043.1L848.3 1043.6L848.7 1043.8L849.9 1044.1L851.6 1044.7L853.2 1045.2L854.9 1045.7L856.6 1046.3L858.2 1046.8L859.9 1047.4L861.5 1047.9L863.2 1048.4L864.8 1048.8L866.5 1049.3L868.2 1049.6L869.8 1050.0L871.5 1050.3L871.5 1050.3L873.1 1050.5L874.8 1050.8L876.5 1051.0L878.1 1051.2L879.8 1051.4L881.4 1051.6L883.1 1051.8L884.7 1051.9L886.4 1051.9L887.4 1052.0L888.1 1052.0L889.7 1051.9L891.4 1051.7L893.0 1051.5L894.7 1051.3L896.3 1051.0L898.0 1050.7L899.7 1050.4L901.3 1050.1L903.0 1049.8L903.4 1049.8L904.6 1049.6L906.3 1049.3L908.0 1049.1L909.6 1048.7L911.3 1048.3L911.3 1048.3L912.9 1047.4L914.6 1046.1L916.2 1044.5L917.0 1043.8L917.9 1042.9L919.6 1041.2L921.2 1039.3L922.9 1037.6L923.9 1036.8L924.5 1036.2L926.2 1035.1L927.8 1034.0L929.5 1033.0L930.7 1032.3L931.2 1032.0L932.8 1030.7L934.5 1029.6L936.1 1029.0L936.4 1029.0L937.8 1029.4L939.5 1030.5L941.1 1031.6L942.1 1031.8L942.8 1031.7L944.4 1030.8L944.4 1030.7L946.1 1027.9L947.7 1023.5L948.9 1020.8L949.4 1019.8L951.1 1016.4L952.7 1013.6L953.5 1012.8L954.4 1012.0L956.0 1010.9L957.7 1010.3L958.0 1010.3L959.4 1010.7L961.0 1012.1L962.6 1013.8L962.7 1013.9L964.3 1016.4L966.0 1019.6L967.1 1021.8L967.6 1022.7L969.3 1025.8L971.0 1028.8L972.6 1031.5L972.8 1031.8L974.3 1033.9L975.9 1036.1L977.4 1037.3L977.6 1037.3L979.2 1037.9L980.9 1038.2L981.9 1038.3L982.6 1038.3L984.2 1038.1L985.9 1037.8L987.5 1037.4L989.2 1037.1L990.9 1036.8L992.2 1036.8L992.5 1036.8L994.2 1036.8L995.8 1037.0L997.5 1037.1L999.1 1037.3L1000.8 1037.5L1002.5 1037.5L1003.6 1037.6L1004.1 1037.6L1005.8 1037.4L1007.4 1037.0L1009.1 1036.5L1010.8 1035.9L1012.4 1035.4L1012.7 1035.3L1014.1 1034.8L1015.7 1034.1L1017.4 1033.2L1019.0 1032.4L1020.7 1031.4L1021.8 1030.8L1022.4 1030.4L1024.0 1029.4L1025.7 1028.2L1027.3 1026.9L1028.6 1025.8L1029.0 1025.4L1030.6 1023.7L1032.3 1021.7L1034.0 1019.3L1034.3 1018.7L1035.6 1016.1L1037.3 1011.9L1038.9 1007.7L1038.9 1007.5L1040.6 1003.2L1042.3 998.7L1043.9 994.2L1044.6 992.4L1045.6 989.7L1047.2 985.1L1048.9 980.5L1050.3 976.7L1050.5 975.9L1052.2 971.5L1053.9 967.0L1055.5 962.0L1056.0 960.5L1057.2 956.1L1058.8 949.3L1060.5 942.3L1060.5 942.2L1062.2 935.0L1063.8 927.6L1065.1 922.6L1065.5 921.1L1067.1 914.8L1068.5 911.7L1068.8 911.4L1070.4 910.3L1071.4 910.0L1072.1 910.2L1073.8 911.6L1074.6 912.8L1075.4 914.4L1077.1 920.6L1078.7 927.9L1078.7 928.0L1080.4 935.4L1082.0 943.6L1082.2 944.2L1083.7 952.7L1085.4 961.4L1085.6 962.3L1087.0 967.9L1088.7 973.3L1090.1 977.4L1090.3 977.9L1092.0 982.0L1093.7 985.6L1095.3 989.1L1095.8 990.2L1097.0 992.7L1098.6 996.5L1100.3 1000.1L1101.5 1002.6L1101.9 1003.4L1103.6 1006.7L1105.3 1009.7L1106.9 1012.3L1107.2 1012.7L1108.6 1014.5L1110.2 1016.5L1111.9 1018.1L1112.9 1018.8L1113.5 1019.1L1115.2 1019.9L1116.9 1020.6L1118.5 1021.1L1119.7 1021.3L1120.2 1021.3L1121.8 1021.5L1123.5 1021.6L1125.2 1021.7L1126.8 1021.8L1128.5 1021.9L1128.8 1022.0L1130.1 1022.2L1131.8 1022.5L1133.4 1023.0L1135.1 1023.5L1136.8 1024.0L1138.0 1024.3L1138.4 1024.4L1140.1 1024.9L1141.7 1025.4L1143.4 1026.0L1145.1 1026.4L1146.7 1026.8L1148.4 1027.0L1149.3 1027.1L1150.0 1027.1L1151.7 1026.8L1153.3 1026.4L1155.0 1025.8L1156.7 1025.1L1158.3 1024.3L1158.5 1024.3L1160.0 1023.4L1161.6 1022.2L1163.3 1020.7L1164.9 1019.2L1166.4 1017.8L1166.6 1017.6L1168.3 1015.9L1169.9 1014.0L1171.6 1012.3L1172.1 1011.8L1173.2 1010.7L1174.9 1009.1L1176.6 1008.3L1176.7 1008.3L1178.2 1008.7L1179.9 1009.7L1181.2 1010.8L1181.5 1011.1L1183.2 1014.3L1184.8 1018.5L1185.8 1020.8L1186.5 1022.4L1188.2 1026.3L1189.8 1029.8L1190.3 1030.8L1191.5 1032.7L1193.1 1035.3L1194.8 1037.5L1196.0 1038.8L1196.5 1039.1L1198.1 1040.5L1199.8 1041.6L1201.4 1042.6L1203.1 1043.4L1204.0 1043.8L1204.7 1044.1L1206.4 1044.7L1208.1 1045.3L1209.7 1045.8L1211.4 1046.1L1213.0 1046.3L1213.1 1046.3L1214.7 1046.3L1216.3 1046.3L1218.0 1046.3L1219.7 1046.3L1221.3 1046.3L1223.0 1046.3L1224.5 1046.3L1224.6 1046.3L1226.3 1046.1L1228.0 1045.8L1229.6 1045.3L1231.3 1044.7L1232.9 1044.1L1233.6 1043.8L1234.6 1043.1L1236.2 1041.5L1237.9 1039.9L1238.2 1039.8L1239.6 1038.9L1241.2 1037.9L1242.7 1037.6L1242.9 1037.6L1244.5 1038.0L1246.2 1038.8L1247.9 1039.6L1249.5 1040.3L1249.6 1040.3L1251.2 1040.6L1252.8 1040.9L1254.5 1041.1L1256.1 1041.2L1256.4 1041.3L1257.8 1041.4L1259.5 1041.5L1261.1 1041.6L1262.8 1041.7L1264.4 1041.8L1266.1 1041.9L1267.7 1041.9L1269.4 1042.0L1271.1 1042.0L1272.7 1042.1L1274.4 1042.1L1274.6 1042.1L1276.0 1041.9L1277.7 1041.3L1279.4 1040.5L1281.0 1039.9L1281.4 1039.8L1282.7 1039.4L1284.3 1039.0L1286.0 1038.6L1287.1 1038.6L1287.6 1038.6L1289.3 1039.2L1291.0 1040.2L1292.6 1041.2L1294.3 1041.9L1295.1 1042.0L1295.9 1042.0L1297.6 1041.9L1299.2 1041.8L1300.9 1041.6L1302.6 1041.5L1304.2 1041.3L1305.9 1041.3L1306.5 1041.3L1307.5 1041.4L1309.2 1041.8L1310.9 1042.5L1312.5 1043.2L1314.2 1043.8L1315.6 1044.0L1315.8 1044.0L1317.5 1043.9L1319.1 1043.7L1320.8 1043.5L1322.5 1043.4L1324.1 1043.3L1324.7 1043.3L1325.8 1043.5L1327.4 1044.4L1329.1 1045.6L1329.3 1045.8L1330.8 1047.0L1332.4 1048.6L1334.1 1050.2L1335.7 1051.5L1336.1 1051.8L1337.4 1052.4L1339.0 1053.1L1340.7 1053.7L1342.4 1054.1L1342.9 1054.3L1344.0 1054.4L1345.7 1054.7L1347.3 1055.0L1349.0 1055.2L1350.6 1055.3L1352.3 1055.5L1354.0 1055.5L1354.3 1055.6L1355.6 1055.6L1357.3 1055.6L1358.9 1055.7L1360.6 1055.7L1362.3 1055.7L1363.9 1055.7L1365.6 1055.7L1367.2 1055.8L1368.0 1055.8L1368.9 1055.7L1370.5 1055.7L1372.2 1055.5L1373.9 1055.3L1375.5 1055.1L1377.2 1054.9L1378.8 1054.6L1379.4 1054.6L1380.5 1054.4L1382.2 1054.1L1383.8 1053.8L1385.5 1053.5L1387.1 1053.2L1388.8 1052.9L1390.4 1052.6L1390.8 1052.6L1392.1 1052.3L1393.8 1052.1L1395.4 1051.8L1397.1 1051.6L1398.7 1051.3L1400.4 1051.1L1402.0 1050.8L1403.7 1050.4L1404.4 1050.3L1405.4 1050.0L1407.0 1049.6L1408.7 1049.1L1410.3 1048.6L1412.0 1047.9L1413.5 1047.3L1413.7 1047.2L1415.3 1046.2L1417.0 1045.0L1418.6 1043.5L1420.3 1041.8L1420.4 1041.7L1421.9 1039.9L1423.6 1037.6L1425.3 1035.0L1426.9 1032.1L1427.2 1031.6L1428.6 1028.8L1430.2 1024.9L1431.9 1020.6L1433.6 1016.3L1434.0 1015.1L1435.2 1012.1L1436.9 1008.1L1438.5 1003.8L1440.2 999.2L1440.9 997.1L1441.8 993.8L1443.5 987.6L1445.2 981.1L1445.4 980.1L1446.8 974.5L1448.5 968.4L1448.8 967.4L1450.1 964.6L1451.8 962.7L1451.8 962.7L1453.4 964.3L1455.0 967.4L1455.1 967.7L1456.8 974.0L1458.4 982.3L1459.1 985.4L1460.1 989.7L1461.7 996.9L1463.4 1002.7L1463.6 1003.3L1465.1 1006.1L1466.7 1008.7L1468.4 1010.9L1470.0 1013.3L1470.5 1014.1L1471.7 1016.4L1473.3 1019.8L1475.0 1023.3L1476.7 1026.5L1477.3 1027.6L1478.3 1029.1L1480.0 1031.5L1481.6 1033.7L1483.3 1035.5L1484.1 1036.2L1484.9 1036.8L1486.6 1038.0L1488.3 1039.0L1489.9 1039.8L1491.6 1040.2L1492.1 1040.3L1493.2 1040.3L1494.9 1040.4L1496.6 1040.4L1498.2 1040.4L1499.9 1040.4L1501.5 1040.5L1503.2 1040.5L1504.8 1040.5L1506.5 1040.6L1506.9 1040.6L1508.2 1040.6L1509.8 1040.8L1511.5 1041.0L1513.1 1041.2L1514.8 1041.5L1516.5 1041.8L1518.1 1042.1L1519.8 1042.3L1521.4 1042.6L1522.9 1042.8L1523.1 1042.8L1524.7 1043.0L1526.4 1043.2L1528.1 1043.4L1529.7 1043.6L1531.4 1043.7L1533.0 1043.9L1534.7 1044.0L1536.3 1044.1L1536.5 1044.1L1538.0 1044.1L1539.7 1044.1L1541.3 1044.1L1543.0 1044.2L1544.6 1044.2L1546.3 1044.2L1547.9 1044.3L1548.0 1044.3L1549.6 1044.4L1551.3 1044.7L1552.9 1045.1L1554.6 1045.5L1556.2 1046.0L1557.9 1046.4L1559.3 1046.8L1559.6 1046.8L1561.2 1047.2L1562.9 1047.5L1564.5 1047.9L1566.2 1048.2L1567.9 1048.6L1569.5 1049.0L1570.7 1049.3L1571.2 1049.4L1572.8 1049.8L1574.5 1050.3L1576.1 1050.7L1577.8 1051.2L1579.5 1051.8L1579.5 1081.3Z" fill="#ffff00"/>
<path d="M313.0 1205.8L313.0 1177.8L314.7 1177.7L316.4 1177.7L318.2 1177.7L319.9 1177.7L321.6 1177.7L323.4 1177.7L325.1 1177.6L326.8 1177.6L328.6 1177.6L330.3 1177.6L332.1 1177.5L333.8 1177.5L335.5 1177.5L337.3 1177.4L339.0 1177.4L340.7 1177.4L342.5 1177.3L344.2 1177.3L345.9 1177.3L347.7 1177.2L349.4 1177.2L351.1 1177.1L352.9 1177.1L354.6 1177.1L356.3 1177.0L358.1 1177.0L359.8 1176.9L361.6 1176.9L363.3 1176.8L365.0 1176.8L366.8 1176.7L368.5 1176.7L370.2 1176.6L372.0 1176.6L373.7 1176.5L375.4 1176.5L377.2 1176.4L378.9 1176.4L380.6 1176.3L382.4 1176.3L384.1 1176.2L385.8 1176.2L387.6 1176.1L389.3 1176.1L391.1 1176.0L392.8 1176.0L394.0 1175.9L394.5 1175.9L396.3 1175.9L398.0 1175.8L399.7 1175.8L401.5 1175.7L403.2 1175.7L404.9 1175.6L406.7 1175.5L408.4 1175.5L410.1 1175.4L411.9 1175.3L413.6 1175.3L415.3 1175.2L417.1 1175.1L418.8 1175.1L420.6 1175.0L422.3 1174.9L424.0 1174.8L425.8 1174.7L427.5 1174.6L429.2 1174.5L431.0 1174.3L432.2 1174.3L432.7 1174.2L434.4 1174.1L436.2 1173.9L437.9 1173.7L439.6 1173.5L441.4 1173.2L443.1 1172.9L444.8 1172.6L446.6 1172.3L448.3 1172.0L450.1 1171.6L451.8 1171.2L453.5 1170.8L453.6 1170.8L455.3 1170.3L457.0 1169.8L458.7 1169.1L460.5 1168.4L462.2 1167.5L463.9 1166.6L465.5 1165.6L465.7 1165.5L467.4 1164.2L469.1 1162.5L470.9 1160.5L472.6 1158.3L474.3 1156.0L475.1 1154.9L476.1 1153.5L477.8 1150.9L479.5 1148.0L481.3 1144.6L483.0 1140.7L483.4 1139.7L484.8 1136.0L486.5 1130.0L488.2 1122.6L489.4 1116.9L490.0 1113.5L491.7 1100.5L493.0 1089.5L493.4 1085.0L495.2 1066.2L496.5 1051.5L496.9 1047.7L498.6 1030.3L500.4 1014.0L501.3 1006.4L502.1 999.9L503.8 988.4L504.2 987.5L505.6 985.2L507.3 983.6L508.0 983.4L509.0 984.3L510.8 987.8L512.5 989.8L512.5 989.8L514.3 981.3L515.6 969.3L516.0 965.6L517.7 943.6L519.2 923.6L519.5 920.0L521.2 896.3L522.8 878.0L522.9 876.2L524.7 858.6L526.4 846.5L527.0 845.3L528.1 849.2L529.9 865.5L531.1 878.0L531.6 882.9L533.3 902.3L534.7 913.0L535.1 914.9L536.8 921.6L538.2 924.4L538.5 924.6L540.3 925.8L542.0 926.7L543.8 927.3L545.4 927.4L545.5 927.4L547.2 926.0L549.0 922.9L550.7 919.3L552.4 916.5L553.7 915.7L554.2 915.8L555.9 917.7L557.6 921.3L559.4 925.8L559.7 926.7L561.1 931.4L562.8 939.6L563.3 941.9L564.6 950.3L566.3 964.5L566.9 969.3L568.0 981.4L569.8 1000.8L570.4 1007.3L571.5 1017.4L573.3 1032.1L574.0 1037.8L575.0 1044.6L576.7 1055.6L577.6 1060.6L578.5 1065.9L580.0 1073.4L580.2 1074.1L581.9 1079.1L583.5 1081.9L583.7 1082.0L585.4 1083.5L587.1 1084.6L588.9 1085.5L590.6 1086.4L591.9 1087.2L592.3 1087.6L594.1 1089.1L595.8 1090.8L597.5 1092.6L599.0 1094.1L599.3 1094.3L601.0 1096.6L602.8 1098.8L604.5 1099.8L604.5 1099.8L606.2 1098.6L608.0 1095.1L609.7 1090.3L611.4 1084.8L613.2 1079.3L614.9 1074.6L616.6 1071.4L618.1 1070.5L618.4 1070.5L620.1 1073.4L621.8 1079.4L623.6 1086.9L625.2 1094.1L625.3 1094.3L627.0 1102.2L628.8 1111.0L630.0 1116.9L630.5 1119.2L632.3 1127.3L634.0 1134.3L634.8 1136.7L635.7 1139.0L637.5 1143.0L639.2 1146.2L640.9 1148.2L641.9 1148.5L642.7 1148.4L644.4 1147.6L646.1 1146.0L647.9 1144.0L649.6 1142.0L650.3 1141.2L651.3 1139.9L653.1 1137.1L654.8 1133.9L656.5 1131.0L658.3 1129.0L659.8 1128.3L660.0 1128.3L661.7 1128.9L663.5 1130.2L665.2 1132.1L667.0 1134.4L668.7 1136.7L670.4 1138.8L670.5 1139.0L672.2 1141.0L673.9 1143.6L675.6 1146.3L677.4 1148.8L679.1 1151.0L680.1 1151.9L680.8 1152.5L682.6 1154.0L684.3 1155.4L686.0 1156.8L687.8 1157.9L689.5 1158.9L691.2 1159.7L693.0 1160.1L694.4 1160.3L694.7 1160.3L696.5 1160.2L698.2 1160.0L699.9 1159.8L701.7 1159.5L703.4 1159.2L705.1 1158.8L706.9 1158.4L708.6 1158.0L708.7 1158.0L710.3 1157.4L712.1 1156.7L713.8 1155.7L715.5 1154.6L717.3 1153.5L719.0 1152.4L720.7 1151.4L722.5 1150.6L723.0 1150.4L724.2 1149.9L726.0 1149.1L727.7 1148.4L729.4 1147.6L731.2 1147.0L732.9 1146.5L734.6 1146.1L736.4 1145.8L737.3 1145.8L738.1 1145.8L739.8 1146.0L741.6 1146.4L743.3 1147.0L745.0 1147.7L746.8 1148.6L748.5 1149.5L750.2 1150.4L752.0 1151.5L753.7 1152.5L755.5 1153.5L757.2 1154.5L758.9 1155.4L760.7 1156.3L761.1 1156.5L762.4 1157.0L764.1 1157.8L765.9 1158.6L767.6 1159.5L769.3 1160.3L771.1 1161.1L772.8 1161.9L774.5 1162.7L776.3 1163.5L778.0 1164.2L779.7 1164.8L781.5 1165.4L783.2 1165.9L785.0 1166.3L785.0 1166.3L786.7 1166.7L788.4 1167.1L790.2 1167.5L791.9 1167.8L793.6 1168.2L795.4 1168.4L797.1 1168.7L798.8 1168.8L800.6 1168.9L801.6 1168.9L802.3 1168.9L804.0 1168.8L805.8 1168.6L807.5 1168.3L809.2 1167.9L811.0 1167.5L812.7 1167.1L814.5 1166.6L816.2 1166.1L817.9 1165.7L818.3 1165.6L819.7 1165.3L821.4 1164.9L823.1 1164.5L824.9 1164.0L826.6 1163.3L826.7 1163.3L828.3 1162.0L830.1 1159.9L831.8 1157.6L832.6 1156.5L833.5 1155.2L835.3 1152.5L837.0 1149.7L838.7 1147.1L839.8 1145.8L840.5 1145.0L842.2 1143.2L843.9 1141.6L845.7 1140.1L846.9 1139.0L847.4 1138.5L849.2 1136.6L850.9 1134.9L852.6 1134.0L852.9 1133.9L854.4 1134.6L856.1 1136.3L857.8 1137.9L858.8 1138.2L859.6 1138.0L861.2 1136.7L861.3 1136.6L863.0 1132.3L864.8 1125.6L866.0 1121.5L866.5 1120.0L868.2 1114.8L870.0 1110.5L870.8 1109.3L871.7 1108.2L873.4 1106.4L875.2 1105.5L875.5 1105.5L876.9 1106.1L878.7 1108.2L880.3 1110.8L880.4 1111.0L882.1 1114.8L883.9 1119.7L885.1 1123.0L885.6 1124.4L887.3 1129.0L889.1 1133.6L890.8 1137.7L891.0 1138.2L892.5 1141.5L894.3 1144.9L895.8 1146.6L896.0 1146.7L897.7 1147.5L899.5 1148.0L900.6 1148.1L901.2 1148.1L902.9 1147.8L904.7 1147.3L906.4 1146.8L908.2 1146.3L909.9 1145.9L911.3 1145.8L911.6 1145.8L913.4 1145.9L915.1 1146.1L916.8 1146.4L918.6 1146.6L920.3 1146.8L922.0 1147.0L923.2 1147.0L923.8 1147.0L925.5 1146.7L927.2 1146.2L929.0 1145.4L930.7 1144.5L932.4 1143.7L932.7 1143.5L934.2 1142.8L935.9 1141.7L937.7 1140.4L939.4 1139.1L941.1 1137.7L942.3 1136.7L942.9 1136.2L944.6 1134.6L946.3 1132.8L948.1 1130.8L949.4 1129.1L949.8 1128.5L951.5 1126.0L953.3 1122.9L955.0 1119.3L955.4 1118.4L956.7 1114.4L958.5 1108.0L960.1 1101.6L960.2 1101.3L961.9 1094.8L963.7 1088.0L965.4 1081.2L966.1 1078.5L967.2 1074.4L968.9 1067.6L970.6 1060.8L972.1 1055.1L972.4 1053.9L974.1 1047.3L975.8 1040.7L977.6 1033.4L978.0 1031.3L979.3 1024.7L981.0 1014.7L982.8 1004.4L982.8 1004.2L984.5 993.7L986.2 982.9L987.6 975.5L988.0 973.3L989.7 964.1L991.1 959.5L991.4 959.1L993.2 957.4L994.2 957.1L994.9 957.3L996.6 959.4L997.6 961.1L998.4 963.5L1000.1 972.5L1001.9 983.4L1001.9 983.4L1003.6 994.4L1005.3 1006.5L1005.4 1007.3L1007.1 1019.9L1008.8 1032.8L1009.0 1034.1L1010.5 1042.3L1012.3 1050.2L1013.8 1056.3L1014.0 1057.2L1015.7 1063.1L1017.5 1068.4L1019.2 1073.6L1019.7 1075.3L1020.9 1079.1L1022.7 1084.7L1024.4 1090.1L1025.7 1093.9L1026.1 1095.1L1027.9 1100.0L1029.6 1104.7L1031.4 1108.6L1031.7 1109.2L1033.1 1111.9L1034.8 1114.9L1036.6 1117.4L1037.6 1118.4L1038.3 1118.9L1040.0 1120.2L1041.8 1121.2L1043.5 1121.9L1044.8 1122.2L1045.2 1122.3L1047.0 1122.5L1048.7 1122.7L1050.4 1122.8L1052.2 1123.0L1053.9 1123.2L1054.3 1123.3L1055.6 1123.6L1057.4 1124.1L1059.1 1124.8L1060.9 1125.6L1062.6 1126.3L1063.8 1126.8L1064.3 1127.0L1066.1 1127.7L1067.8 1128.5L1069.5 1129.3L1071.3 1130.1L1073.0 1130.6L1074.7 1131.0L1075.8 1131.0L1076.5 1131.0L1078.2 1130.7L1079.9 1130.0L1081.7 1129.1L1083.4 1128.0L1085.1 1126.9L1085.3 1126.8L1086.9 1125.5L1088.6 1123.6L1090.4 1121.4L1092.1 1119.0L1093.6 1116.9L1093.8 1116.6L1095.6 1114.0L1097.3 1111.2L1099.0 1108.5L1099.6 1107.8L1100.8 1106.1L1102.5 1103.7L1104.2 1102.4L1104.4 1102.4L1106.0 1103.0L1107.7 1104.5L1109.1 1106.2L1109.4 1106.7L1111.2 1111.5L1112.9 1118.0L1113.9 1121.5L1114.6 1123.9L1116.4 1129.8L1118.1 1135.2L1118.7 1136.7L1119.9 1139.6L1121.6 1143.6L1123.3 1146.9L1124.6 1148.8L1125.1 1149.4L1126.8 1151.4L1128.5 1153.2L1130.3 1154.7L1132.0 1155.9L1133.0 1156.5L1133.7 1156.9L1135.5 1157.9L1137.2 1158.8L1138.9 1159.5L1140.7 1160.1L1142.4 1160.3L1142.5 1160.3L1144.1 1160.3L1145.9 1160.3L1147.6 1160.3L1149.4 1160.3L1151.1 1160.3L1152.8 1160.3L1154.4 1160.3L1154.6 1160.3L1156.3 1160.1L1158.0 1159.6L1159.8 1158.9L1161.5 1158.0L1163.2 1156.9L1163.9 1156.5L1165.0 1155.5L1166.7 1153.0L1168.4 1150.6L1168.7 1150.4L1170.2 1149.0L1171.9 1147.6L1173.5 1147.0L1173.6 1147.0L1175.4 1147.6L1177.1 1148.8L1178.8 1150.2L1180.6 1151.1L1180.6 1151.1L1182.3 1151.6L1184.1 1152.0L1185.8 1152.4L1187.5 1152.6L1187.8 1152.7L1189.3 1152.8L1191.0 1153.0L1192.7 1153.1L1194.5 1153.3L1196.2 1153.4L1197.9 1153.6L1199.7 1153.7L1201.4 1153.7L1203.1 1153.8L1204.9 1153.9L1206.6 1153.9L1206.9 1153.9L1208.3 1153.6L1210.1 1152.7L1211.8 1151.5L1213.6 1150.6L1214.0 1150.4L1215.3 1149.9L1217.0 1149.2L1218.8 1148.7L1220.0 1148.5L1220.5 1148.6L1222.2 1149.5L1224.0 1151.0L1225.7 1152.5L1227.4 1153.6L1228.3 1153.7L1229.2 1153.7L1230.9 1153.6L1232.6 1153.4L1234.4 1153.2L1236.1 1152.9L1237.8 1152.8L1239.6 1152.7L1240.2 1152.7L1241.3 1152.8L1243.1 1153.5L1244.8 1154.6L1246.5 1155.7L1248.3 1156.5L1249.8 1156.8L1250.0 1156.8L1251.7 1156.6L1253.5 1156.4L1255.2 1156.1L1256.9 1155.9L1258.7 1155.7L1259.3 1155.7L1260.4 1156.0L1262.1 1157.5L1263.9 1159.3L1264.1 1159.5L1265.6 1161.3L1267.3 1163.8L1269.1 1166.3L1270.8 1168.3L1271.2 1168.6L1272.6 1169.6L1274.3 1170.7L1276.0 1171.6L1277.8 1172.3L1278.4 1172.4L1279.5 1172.7L1281.2 1173.1L1283.0 1173.5L1284.7 1173.8L1286.4 1174.1L1288.2 1174.3L1289.9 1174.4L1290.3 1174.4L1291.6 1174.5L1293.4 1174.5L1295.1 1174.6L1296.8 1174.6L1298.6 1174.7L1300.3 1174.7L1302.1 1174.7L1303.8 1174.7L1304.6 1174.7L1305.5 1174.7L1307.3 1174.6L1309.0 1174.4L1310.7 1174.1L1312.5 1173.7L1314.2 1173.4L1315.9 1173.0L1316.5 1172.9L1317.7 1172.7L1319.4 1172.3L1321.1 1171.8L1322.9 1171.3L1324.6 1170.9L1326.3 1170.4L1328.1 1169.9L1328.4 1169.8L1329.8 1169.5L1331.5 1169.1L1333.3 1168.7L1335.0 1168.4L1336.8 1168.0L1338.5 1167.6L1340.2 1167.1L1342.0 1166.6L1342.7 1166.3L1343.7 1166.0L1345.4 1165.4L1347.2 1164.6L1348.9 1163.8L1350.6 1162.8L1352.3 1161.8L1352.4 1161.7L1354.1 1160.2L1355.8 1158.3L1357.6 1156.0L1359.3 1153.5L1359.4 1153.4L1361.0 1150.6L1362.8 1147.2L1364.5 1143.2L1366.3 1138.9L1366.6 1138.1L1368.0 1133.9L1369.7 1128.0L1371.5 1121.7L1373.2 1115.3L1373.7 1113.4L1374.9 1109.1L1376.7 1103.1L1378.4 1096.9L1380.1 1090.1L1380.9 1087.0L1381.9 1082.2L1383.6 1073.1L1385.3 1063.6L1385.6 1062.1L1387.1 1053.8L1388.8 1044.8L1389.2 1043.4L1390.5 1039.3L1392.3 1036.4L1392.3 1036.4L1394.0 1038.8L1395.6 1043.4L1395.8 1043.8L1397.5 1053.1L1399.2 1065.4L1399.9 1069.8L1401.0 1076.2L1402.7 1086.9L1404.4 1095.3L1404.7 1096.3L1406.2 1100.4L1407.9 1104.1L1409.6 1107.3L1411.4 1110.8L1411.8 1111.9L1413.1 1115.3L1414.8 1120.4L1416.6 1125.6L1418.3 1130.4L1419.0 1132.0L1420.0 1134.3L1421.8 1138.0L1423.5 1141.3L1425.3 1143.9L1426.1 1145.0L1427.0 1145.9L1428.7 1147.7L1430.5 1149.2L1432.2 1150.4L1433.9 1151.1L1434.5 1151.1L1435.7 1151.2L1437.4 1151.3L1439.1 1151.3L1440.9 1151.4L1442.6 1151.4L1444.3 1151.4L1446.1 1151.5L1447.8 1151.5L1449.5 1151.6L1450.0 1151.6L1451.3 1151.7L1453.0 1151.9L1454.8 1152.2L1456.5 1152.6L1458.2 1153.0L1460.0 1153.4L1461.7 1153.9L1463.4 1154.3L1465.2 1154.7L1466.7 1154.9L1466.9 1155.0L1468.6 1155.3L1470.4 1155.6L1472.1 1155.9L1473.8 1156.1L1475.6 1156.4L1477.3 1156.6L1479.0 1156.8L1480.8 1156.9L1481.0 1156.9L1482.5 1157.0L1484.3 1157.0L1486.0 1157.0L1487.7 1157.1L1489.5 1157.1L1491.2 1157.2L1492.9 1157.2L1492.9 1157.2L1494.7 1157.4L1496.4 1157.9L1498.1 1158.4L1499.9 1159.1L1501.6 1159.8L1503.3 1160.5L1504.8 1161.0L1505.1 1161.1L1506.8 1161.6L1508.5 1162.2L1510.3 1162.7L1512.0 1163.2L1513.7 1163.8L1515.5 1164.4L1516.7 1164.8L1517.2 1165.0L1519.0 1165.7L1520.7 1166.4L1522.4 1167.1L1524.2 1167.9L1525.9 1168.6L1525.9 1205.8Z" fill="#ff8000"/>
<path d="M194.9 1342.4L194.9 1308.1L196.8 1308.1L198.6 1308.1L200.4 1308.1L202.2 1308.0L204.0 1308.0L205.9 1308.0L207.7 1307.9L209.5 1307.9L211.3 1307.8L213.1 1307.8L215.0 1307.7L216.8 1307.7L218.6 1307.6L220.4 1307.6L222.2 1307.5L224.1 1307.5L225.9 1307.4L227.7 1307.4L229.5 1307.3L231.3 1307.2L233.2 1307.2L235.0 1307.1L236.8 1307.0L238.6 1307.0L240.4 1306.9L242.3 1306.8L244.1 1306.8L245.9 1306.7L247.7 1306.6L249.5 1306.5L251.4 1306.4L253.2 1306.4L255.0 1306.3L256.8 1306.2L258.6 1306.1L260.5 1306.0L262.3 1306.0L264.1 1305.9L265.9 1305.8L267.7 1305.7L269.6 1305.6L271.4 1305.5L273.2 1305.4L275.0 1305.4L276.8 1305.3L278.7 1305.2L280.0 1305.1L280.5 1305.1L282.3 1305.0L284.1 1304.9L285.9 1304.8L287.8 1304.7L289.6 1304.6L291.4 1304.6L293.2 1304.5L295.0 1304.4L296.9 1304.3L298.7 1304.1L300.5 1304.0L302.3 1303.9L304.1 1303.8L306.0 1303.7L307.8 1303.5L309.6 1303.4L311.4 1303.2L313.2 1303.1L315.1 1302.9L316.9 1302.7L318.7 1302.5L320.0 1302.4L320.5 1302.3L322.3 1302.0L324.2 1301.8L326.0 1301.4L327.8 1301.1L329.6 1300.6L331.4 1300.2L333.3 1299.7L335.1 1299.2L336.9 1298.6L338.7 1298.0L340.5 1297.3L342.4 1296.6L342.5 1296.6L344.2 1295.9L346.0 1294.9L347.8 1293.9L349.6 1292.6L351.5 1291.2L353.3 1289.7L355.0 1288.0L355.1 1287.9L356.9 1285.7L358.7 1282.9L360.6 1279.6L362.4 1276.0L364.2 1272.2L365.0 1270.5L366.0 1268.1L367.8 1263.8L369.7 1259.0L371.5 1253.4L373.3 1247.0L373.7 1245.4L375.1 1239.2L376.9 1229.3L378.8 1217.2L380.0 1207.7L380.6 1202.1L382.4 1180.7L383.7 1162.5L384.2 1155.1L386.0 1124.1L387.5 1099.7L387.9 1093.6L389.7 1064.7L391.5 1037.9L392.5 1025.4L393.3 1014.6L395.1 995.7L395.5 994.2L397.0 990.3L398.8 987.7L399.5 987.5L400.6 988.9L402.4 994.6L404.2 998.0L404.2 998.0L406.1 983.9L407.5 964.1L407.9 958.0L409.7 921.7L411.2 888.8L411.5 882.7L413.3 843.7L415.0 813.4L415.2 810.6L417.0 781.5L418.8 761.4L419.5 759.4L420.6 765.9L422.4 792.9L423.7 813.4L424.3 821.6L426.1 853.5L427.5 871.2L427.9 874.3L429.7 885.4L431.2 890.0L431.5 890.4L433.4 892.4L435.2 893.9L437.0 894.8L438.7 895.0L438.8 895.0L440.6 892.7L442.5 887.5L444.3 881.6L446.1 877.0L447.5 875.7L447.9 875.8L449.7 878.9L451.6 884.9L453.4 892.3L453.7 893.8L455.2 901.6L457.0 915.1L457.5 918.9L458.8 932.8L460.7 956.2L461.2 964.1L462.5 984.1L464.3 1016.1L465.0 1026.9L466.1 1043.5L467.9 1067.7L468.7 1077.1L469.8 1088.5L471.6 1106.5L472.5 1114.8L473.4 1123.5L475.0 1135.9L475.2 1137.1L477.0 1145.3L478.7 1149.9L478.9 1150.2L480.7 1152.7L482.5 1154.4L484.3 1155.8L486.1 1157.3L487.5 1158.7L488.0 1159.3L489.8 1161.8L491.6 1164.6L493.4 1167.5L495.0 1170.0L495.2 1170.5L497.1 1174.2L498.9 1177.9L500.7 1179.6L500.7 1179.6L502.5 1177.4L504.3 1171.8L506.2 1163.8L508.0 1154.7L509.8 1145.6L511.6 1137.9L513.4 1132.7L515.0 1131.1L515.3 1131.2L517.1 1135.9L518.9 1145.8L520.7 1158.2L522.5 1170.0L522.5 1170.4L524.4 1183.5L526.2 1198.0L527.5 1207.7L528.0 1211.4L529.8 1224.9L531.6 1236.5L532.5 1240.3L533.5 1244.1L535.3 1250.7L537.1 1256.1L538.9 1259.4L540.0 1259.9L540.7 1259.8L542.6 1258.3L544.4 1255.7L546.2 1252.4L548.0 1249.1L548.7 1247.9L549.8 1245.7L551.7 1241.0L553.5 1235.8L555.3 1231.0L557.1 1227.6L558.7 1226.5L558.9 1226.5L560.8 1227.5L562.6 1229.7L564.4 1232.9L566.2 1236.5L568.0 1240.3L569.9 1243.9L570.0 1244.1L571.7 1247.5L573.5 1251.8L575.3 1256.2L577.1 1260.4L579.0 1263.9L580.0 1265.4L580.8 1266.5L582.6 1268.9L584.4 1271.3L586.2 1273.5L588.1 1275.4L589.9 1277.1L591.7 1278.3L593.5 1279.1L595.0 1279.3L595.3 1279.3L597.2 1279.1L599.0 1278.9L600.8 1278.5L602.6 1278.1L604.4 1277.5L606.3 1276.9L608.1 1276.2L609.9 1275.5L610.0 1275.5L611.7 1274.6L613.5 1273.3L615.4 1271.7L617.2 1270.0L619.0 1268.1L620.8 1266.3L622.6 1264.7L624.5 1263.3L625.0 1262.9L626.3 1262.1L628.1 1260.9L629.9 1259.6L631.7 1258.4L633.6 1257.4L635.4 1256.5L637.2 1255.8L639.0 1255.5L640.0 1255.4L640.8 1255.4L642.7 1255.8L644.5 1256.5L646.3 1257.4L648.1 1258.6L649.9 1259.9L651.8 1261.4L653.6 1263.1L655.4 1264.7L657.2 1266.4L659.0 1268.1L660.9 1269.8L662.7 1271.3L664.5 1272.6L665.0 1273.0L666.3 1273.9L668.1 1275.2L670.0 1276.5L671.8 1277.9L673.6 1279.3L675.4 1280.7L677.2 1282.0L679.1 1283.3L680.9 1284.5L682.7 1285.7L684.5 1286.8L686.3 1287.7L688.2 1288.6L690.0 1289.3L690.0 1289.3L691.8 1289.9L693.6 1290.6L695.4 1291.2L697.3 1291.8L699.1 1292.3L700.9 1292.7L702.7 1293.1L704.5 1293.4L706.4 1293.5L707.5 1293.6L708.2 1293.6L710.0 1293.4L711.8 1293.0L713.6 1292.5L715.5 1291.9L717.3 1291.2L719.1 1290.5L720.9 1289.7L722.7 1288.9L724.6 1288.2L725.0 1288.0L726.4 1287.6L728.2 1287.0L730.0 1286.3L731.8 1285.4L733.7 1284.3L733.7 1284.3L735.5 1282.2L737.3 1278.7L739.1 1274.8L740.0 1273.0L740.9 1270.9L742.8 1266.5L744.6 1261.9L746.4 1257.6L747.5 1255.4L748.2 1254.1L750.0 1251.1L751.9 1248.4L753.7 1245.9L755.0 1244.1L755.5 1243.3L757.3 1240.2L759.1 1237.3L761.0 1235.8L761.2 1235.8L762.8 1236.9L764.6 1239.7L766.4 1242.3L767.5 1242.8L768.2 1242.5L770.0 1240.3L770.1 1240.2L771.9 1233.1L773.7 1222.1L775.0 1215.2L775.5 1212.8L777.3 1204.2L779.2 1197.2L780.0 1195.1L781.0 1193.3L782.8 1190.4L784.6 1188.9L785.0 1188.9L786.4 1189.9L788.3 1193.4L790.0 1197.6L790.1 1197.9L791.9 1204.2L793.7 1212.3L795.0 1217.7L795.5 1220.0L797.4 1227.7L799.2 1235.3L801.0 1242.1L801.2 1242.8L802.8 1248.2L804.6 1253.8L806.2 1256.7L806.5 1256.8L808.3 1258.2L810.1 1259.0L811.2 1259.2L811.9 1259.1L813.7 1258.7L815.6 1257.9L817.4 1257.0L819.2 1256.2L821.0 1255.6L822.5 1255.4L822.8 1255.4L824.7 1255.6L826.5 1255.9L828.3 1256.3L830.1 1256.7L831.9 1257.1L833.8 1257.4L835.0 1257.4L835.6 1257.4L837.4 1256.9L839.2 1256.0L841.0 1254.7L842.9 1253.3L844.7 1251.9L845.0 1251.6L846.5 1250.4L848.3 1248.6L850.1 1246.5L852.0 1244.3L853.8 1242.0L855.0 1240.3L855.6 1239.5L857.4 1236.8L859.2 1233.9L861.1 1230.6L862.5 1227.8L862.9 1226.9L864.7 1222.7L866.5 1217.7L868.3 1211.7L868.7 1210.2L870.2 1203.7L872.0 1193.1L873.7 1182.6L873.8 1182.2L875.6 1171.5L877.4 1160.4L879.3 1149.3L880.0 1144.9L881.1 1138.3L882.9 1127.3L884.7 1116.4L886.2 1107.2L886.5 1105.4L888.4 1095.0L890.2 1084.5L892.0 1073.0L892.5 1069.6L893.8 1059.3L895.6 1043.4L897.5 1027.1L897.5 1026.9L899.3 1010.3L901.1 993.3L902.5 981.7L902.9 978.2L904.7 963.7L906.2 956.6L906.6 956.0L908.4 953.3L909.5 952.8L910.2 953.1L912.0 956.5L913.0 959.1L913.8 962.8L915.7 977.1L917.5 994.2L917.5 994.2L919.3 1011.6L921.1 1030.6L921.2 1031.9L922.9 1052.0L924.8 1072.5L925.0 1074.6L926.6 1087.5L928.4 1100.1L930.0 1109.7L930.2 1111.1L932.0 1120.5L933.9 1128.9L935.7 1137.2L936.2 1139.9L937.5 1146.1L939.3 1155.1L941.1 1163.9L942.5 1170.0L943.0 1172.1L944.8 1180.1L946.6 1187.6L948.4 1194.1L948.7 1195.1L950.2 1199.6L952.1 1204.5L953.9 1208.5L955.0 1210.2L955.7 1211.1L957.5 1213.1L959.3 1214.7L961.2 1215.9L962.5 1216.5L963.0 1216.6L964.8 1217.0L966.6 1217.3L968.4 1217.5L970.3 1217.8L972.1 1218.1L972.5 1218.2L973.9 1218.7L975.7 1219.6L977.5 1220.8L979.4 1222.0L981.2 1223.2L982.5 1224.0L983.0 1224.3L984.8 1225.5L986.6 1226.9L988.5 1228.2L990.3 1229.4L992.1 1230.4L993.9 1230.9L995.0 1231.0L995.7 1231.0L997.6 1230.4L999.4 1229.3L1001.2 1227.8L1003.0 1226.0L1004.8 1224.2L1005.0 1224.0L1006.7 1221.9L1008.5 1218.8L1010.3 1215.1L1012.1 1211.2L1013.7 1207.7L1013.9 1207.3L1015.8 1202.9L1017.6 1198.2L1019.4 1193.9L1020.0 1192.6L1021.2 1189.9L1023.0 1185.9L1024.9 1183.8L1025.0 1183.8L1026.7 1184.7L1028.5 1187.3L1030.0 1190.1L1030.3 1190.9L1032.1 1198.8L1034.0 1209.5L1035.0 1215.2L1035.8 1219.3L1037.6 1229.0L1039.4 1237.9L1040.0 1240.3L1041.2 1245.2L1043.1 1251.7L1044.9 1257.2L1046.2 1260.4L1046.7 1261.3L1048.5 1264.7L1050.3 1267.6L1052.1 1270.0L1054.0 1272.0L1055.0 1273.0L1055.8 1273.7L1057.6 1275.3L1059.4 1276.8L1061.2 1278.1L1063.1 1278.9L1064.9 1279.3L1065.0 1279.3L1066.7 1279.3L1068.5 1279.3L1070.3 1279.3L1072.2 1279.3L1074.0 1279.3L1075.8 1279.3L1077.5 1279.3L1077.6 1279.3L1079.4 1278.9L1081.3 1278.1L1083.1 1276.9L1084.9 1275.5L1086.7 1273.7L1087.5 1273.0L1088.5 1271.4L1090.4 1267.3L1092.2 1263.4L1092.5 1262.9L1094.0 1260.6L1095.8 1258.3L1097.5 1257.4L1097.6 1257.4L1099.5 1258.4L1101.3 1260.4L1103.1 1262.6L1104.9 1264.2L1105.0 1264.2L1106.7 1265.0L1108.6 1265.7L1110.4 1266.2L1112.2 1266.7L1112.5 1266.7L1114.0 1267.0L1115.8 1267.2L1117.7 1267.5L1119.5 1267.8L1121.3 1268.0L1123.1 1268.2L1124.9 1268.4L1126.8 1268.5L1128.6 1268.6L1130.4 1268.7L1132.2 1268.7L1132.5 1268.7L1134.0 1268.2L1135.9 1266.7L1137.7 1264.9L1139.5 1263.2L1140.0 1262.9L1141.3 1262.1L1143.1 1260.9L1145.0 1260.1L1146.2 1259.9L1146.8 1260.0L1148.6 1261.5L1150.4 1263.9L1152.2 1266.5L1154.1 1268.2L1155.0 1268.5L1155.9 1268.4L1157.7 1268.2L1159.5 1267.9L1161.3 1267.6L1163.2 1267.2L1165.0 1266.9L1166.8 1266.7L1167.5 1266.7L1168.6 1266.9L1170.4 1268.1L1172.3 1269.9L1174.1 1271.7L1175.9 1273.0L1177.5 1273.5L1177.7 1273.5L1179.5 1273.3L1181.4 1272.9L1183.2 1272.4L1185.0 1272.0L1186.8 1271.7L1187.5 1271.7L1188.6 1272.3L1190.5 1274.7L1192.3 1277.7L1192.5 1278.0L1194.1 1281.0L1195.9 1285.1L1197.7 1289.3L1199.6 1292.5L1200.0 1293.1L1201.4 1294.7L1203.2 1296.5L1205.0 1297.9L1206.8 1299.1L1207.5 1299.3L1208.7 1299.8L1210.5 1300.5L1212.3 1301.1L1214.1 1301.6L1215.9 1302.1L1217.8 1302.4L1219.6 1302.6L1220.0 1302.6L1221.4 1302.7L1223.2 1302.8L1225.0 1302.9L1226.9 1303.0L1228.7 1303.0L1230.5 1303.1L1232.3 1303.1L1234.1 1303.1L1235.0 1303.1L1236.0 1303.1L1237.8 1302.9L1239.6 1302.5L1241.4 1302.0L1243.2 1301.5L1245.1 1300.9L1246.9 1300.3L1247.5 1300.1L1248.7 1299.7L1250.5 1299.0L1252.3 1298.3L1254.2 1297.5L1256.0 1296.8L1257.8 1296.0L1259.6 1295.2L1260.0 1295.1L1261.4 1294.5L1263.3 1293.9L1265.1 1293.2L1266.9 1292.6L1268.7 1292.0L1270.5 1291.3L1272.4 1290.5L1274.2 1289.7L1275.0 1289.3L1276.0 1288.8L1277.8 1287.7L1279.6 1286.5L1281.5 1285.1L1283.3 1283.5L1285.0 1281.8L1285.1 1281.6L1286.9 1279.2L1288.7 1276.0L1290.6 1272.3L1292.4 1268.2L1292.5 1268.0L1294.2 1263.4L1296.0 1257.7L1297.8 1251.3L1299.7 1244.1L1300.0 1242.8L1301.5 1236.0L1303.3 1226.5L1305.1 1216.1L1306.9 1205.7L1307.5 1202.7L1308.8 1195.7L1310.6 1186.0L1312.4 1175.9L1314.2 1164.9L1315.0 1160.0L1316.0 1152.3L1317.9 1137.5L1319.7 1122.2L1320.0 1119.8L1321.5 1106.4L1323.3 1091.9L1323.7 1089.7L1325.1 1082.9L1327.0 1078.4L1327.0 1078.4L1328.8 1082.1L1330.5 1089.7L1330.6 1090.3L1332.4 1105.3L1334.2 1125.1L1335.0 1132.3L1336.1 1142.5L1337.9 1159.9L1339.7 1173.6L1340.0 1175.0L1341.5 1181.7L1343.3 1187.6L1345.2 1192.7L1347.0 1198.3L1347.5 1200.2L1348.8 1205.6L1350.6 1213.9L1352.4 1222.4L1354.3 1230.2L1355.0 1232.8L1356.1 1236.6L1357.9 1242.6L1359.7 1248.0L1361.5 1252.4L1362.5 1254.1L1363.4 1255.6L1365.2 1258.5L1367.0 1261.1L1368.8 1263.0L1370.6 1264.1L1371.2 1264.2L1372.5 1264.3L1374.3 1264.4L1376.1 1264.5L1377.9 1264.6L1379.7 1264.6L1381.6 1264.7L1383.4 1264.7L1385.2 1264.8L1387.0 1264.9L1387.5 1264.9L1388.8 1265.1L1390.7 1265.5L1392.5 1266.0L1394.3 1266.6L1396.1 1267.3L1397.9 1268.0L1399.8 1268.7L1401.6 1269.4L1403.4 1270.0L1405.0 1270.5L1405.2 1270.5L1407.0 1271.0L1408.9 1271.5L1410.7 1272.0L1412.5 1272.5L1414.3 1272.9L1416.1 1273.2L1418.0 1273.5L1419.8 1273.7L1420.0 1273.7L1421.6 1273.8L1423.4 1273.9L1425.2 1273.9L1427.1 1274.0L1428.9 1274.0L1430.7 1274.1L1432.5 1274.2L1432.5 1274.2L1434.3 1274.6L1436.2 1275.3L1438.0 1276.3L1439.8 1277.4L1441.6 1278.5L1443.4 1279.7L1445.0 1280.5L1445.3 1280.6L1447.1 1281.5L1448.9 1282.4L1450.7 1283.3L1452.5 1284.2L1454.4 1285.1L1456.2 1286.1L1457.5 1286.8L1458.0 1287.1L1459.8 1288.2L1461.6 1289.3L1463.5 1290.5L1465.3 1291.8L1467.1 1293.1L1467.1 1342.4Z" fill="#ff0000"/>
<path d="M425.0 754.8L466.2 749.2M509.3 741.0L550.5 732.4M592.9 719.2L631.9 706.9M674.2 690.4L711.7 675.0M751.0 654.4L787.8 636.0M827.9 613.2L862.8 593.7M901.0 569.3L934.7 548.7M971.5 522.9L1006.0 500.3" stroke="#ff0000" stroke-width="7.6" fill="none"/>
<polygon points="1016,478 1042,474 1042,470 1048,470 1048,477 1044,477.5 1031,500" fill="#ff0000"/>
<g stroke="#000000" fill="none">
<path d="M131.6 763.0V1415.8H1436.7" stroke-width="6.5" stroke-linejoin="miter"/>
<polygon points="1431.4,1418.0 1437.0,1418.0 1839.9,479.5 1835.9,479.5" fill="#000000" stroke="none"/>
<path d="M131.5 1415.0V1391.0M224.5 1415.0V1402.5M317.5 1415.0V1391.0M410.5 1415.0V1402.5M503.5 1415.0V1391.0M596.5 1415.0V1402.5M689.5 1415.0V1391.0M782.5 1415.0V1402.5M875.6 1415.0V1391.0M968.6 1415.0V1402.5M1061.6 1415.0V1391.0M1154.6 1415.0V1402.5M1247.6 1415.0V1391.0M1340.6 1415.0V1402.5M1433.6 1415.0V1391.0" stroke-width="5"/>
<path d="M1467.1 1342.0H1441.3" stroke-width="4.16"/>
<path d="M1525.9 1205.4H1512.4" stroke-width="3.91"/>
<path d="M1579.5 1080.9H1555.9" stroke-width="3.69"/>
<path d="M1628.5 966.9H1616.1" stroke-width="3.49"/>
<path d="M1673.5 862.4H1651.8" stroke-width="3.30"/>
<path d="M1714.9 766.0H1703.5" stroke-width="3.13"/>
<path d="M1753.2 676.9H1733.3" stroke-width="2.98"/>
<path d="M1788.8 594.2H1778.2" stroke-width="2.84"/>
<path d="M1821.8 517.4H1803.2" stroke-width="2.71"/>
</g>
<g font-family="'Liberation Serif', 'DejaVu Serif', serif" font-weight="bold" style="font-kerning:none" text-rendering="geometricPrecision">
<text x="131.5" y="1474.6" font-size="62.8" text-anchor="middle">520</text>
<text x="317.5" y="1474.6" font-size="62.8" text-anchor="middle">540</text>
<text x="503.5" y="1474.6" font-size="62.8" text-anchor="middle">560</text>
<text x="689.5" y="1474.6" font-size="62.8" text-anchor="middle">580</text>
<text x="875.6" y="1474.6" font-size="62.8" text-anchor="middle">600</text>
<text x="1061.6" y="1474.6" font-size="62.8" text-anchor="middle">620</text>
<text x="1247.6" y="1474.6" font-size="62.8" text-anchor="middle">640</text>
<text x="1433.6" y="1474.6" font-size="62.8" text-anchor="middle">660</text>
<text x="783.5" y="1546.6" font-size="78.4" text-anchor="middle" textLength="589" lengthAdjust="spacing">Wavelength (nm)</text>
<text transform="translate(78.5 1091.5) rotate(-90)" font-size="75.3" text-anchor="middle" textLength="463" lengthAdjust="spacing">Intensity (a.u.)</text>
<text x="1540.5" y="1347.3" font-size="60.8" text-anchor="middle">300</text>
<text x="1646.0" y="1086.8" font-size="56.0" text-anchor="middle">350</text>
<text x="1734.3" y="869.3" font-size="50.3" text-anchor="middle">400</text>
<text x="1809.8" y="683.6" font-size="47.5" text-anchor="middle">450</text>
<text x="1875.0" y="524.3" font-size="44.5" text-anchor="middle">500</text>
<text x="425.3" y="731.6" font-size="62.2" text-anchor="middle">542</text>
<g fill="#0000ff">
<text x="639" y="1253.5" font-size="62.5" text-anchor="middle">567</text>
<text x="913.8" y="954.6" font-size="62.5" text-anchor="middle">596</text>
<text x="1321.3" y="1078.6" font-size="62.5" text-anchor="middle">642</text>
</g>
</g>
</svg>
<div id="tl" style="position:absolute;left:0;top:0;transform-origin:0 0;transform:matrix3d(0.72286183,-0.42205393,0,0.0002648,1.055,0,0,0,0,0,1,0,1774.4435,1279.6813,0,1.0849);font:bold 100px/100px 'Liberation Serif','DejaVu Serif',serif;font-kerning:none;white-space:nowrap;color:#000;letter-spacing:0px">Temperature (<i>K</i>)</div>
</body>
</html>
